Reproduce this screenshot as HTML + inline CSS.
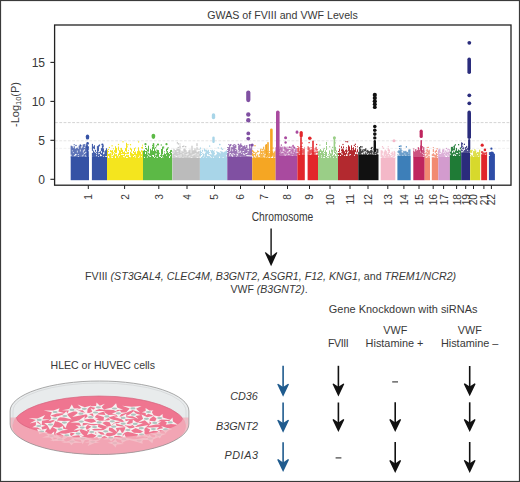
<!DOCTYPE html>
<html><head><meta charset="utf-8"><style>
html,body{margin:0;padding:0;background:#fff;}
body{width:520px;height:482px;overflow:hidden;position:relative;}
svg{position:absolute;left:0;top:0;}
text{font-family:"Liberation Sans",sans-serif;fill:#383838;}
</style></head><body>
<svg width="520" height="482" viewBox="0 0 520 482">
<rect x="0.5" y="0.5" width="519" height="481" fill="#fff" stroke="#3a3a3a" stroke-width="1.2"/>
<text x="207.2" y="18.6" font-size="10.65" textLength="150.6">GWAS of FVIII and VWF Levels</text>
<g stroke-width="0.9" stroke-dasharray="2.8,1.5" fill="none">
<line x1="55" y1="122.6" x2="511" y2="122.6" stroke="#cfcfcf"/>
<line x1="55" y1="140.8" x2="511" y2="140.8" stroke="#e2e2e2"/>
<line x1="55" y1="148.4" x2="511" y2="148.4" stroke="#efefef"/>
</g>
<g fill="#3552A5"><rect x="70.7" y="157" width="18.3" height="23.2"/><rect x="70.7" y="145.7" width="1.0" height="9.0"/><rect x="70.7" y="155.7" width="1.0" height="1.6"/><rect x="71.7" y="146.3" width="1.0" height="4.0"/><rect x="71.7" y="151.3" width="1.0" height="6.0"/><rect x="72.7" y="148.1" width="1.0" height="4.0"/><rect x="72.7" y="153.1" width="1.0" height="4.2"/><rect x="73.7" y="144.2" width="1.0" height="1.0"/><rect x="73.7" y="146.2" width="1.0" height="9.0"/><rect x="73.7" y="156.2" width="1.0" height="1.1"/><rect x="74.7" y="148.9" width="1.0" height="5.0"/><rect x="74.7" y="155.9" width="1.0" height="1.4"/><rect x="75.7" y="148.1" width="1.0" height="6.0"/><rect x="75.7" y="155.1" width="1.0" height="2.2"/><rect x="76.7" y="147.6" width="1.0" height="3.0"/><rect x="76.7" y="152.6" width="1.0" height="4.7"/><rect x="77.7" y="149.0" width="1.0" height="5.0"/><rect x="77.7" y="155.0" width="1.0" height="1.0"/><rect x="78.7" y="145.6" width="1.0" height="11.7"/><rect x="79.7" y="144.5" width="1.0" height="5.0"/><rect x="79.7" y="151.5" width="1.0" height="5.8"/><rect x="80.7" y="145.4" width="1.0" height="1.0"/><rect x="80.7" y="148.4" width="1.0" height="8.9"/><rect x="81.7" y="147.4" width="1.0" height="8.0"/><rect x="81.7" y="156.4" width="1.0" height="0.9"/><rect x="82.7" y="144.5" width="1.0" height="6.0"/><rect x="82.7" y="152.5" width="1.0" height="2.0"/><rect x="82.7" y="155.5" width="1.0" height="1.8"/><rect x="83.7" y="144.0" width="1.0" height="3.0"/><rect x="83.7" y="148.0" width="1.0" height="1.0"/><rect x="83.7" y="151.0" width="1.0" height="2.0"/><rect x="83.7" y="154.0" width="1.0" height="3.3"/><rect x="84.7" y="147.3" width="1.0" height="5.0"/><rect x="84.7" y="153.3" width="1.0" height="2.0"/><rect x="84.7" y="156.3" width="1.0" height="1.0"/><rect x="85.7" y="143.9" width="1.0" height="8.0"/><rect x="85.7" y="152.9" width="1.0" height="3.0"/><rect x="85.7" y="156.9" width="1.0" height="0.4"/><rect x="86.7" y="144.7" width="1.0" height="6.0"/><rect x="86.7" y="151.7" width="1.0" height="5.6"/><rect x="87.7" y="146.2" width="1.0" height="4.0"/><rect x="87.7" y="151.2" width="1.0" height="6.1"/><rect x="79.9" y="144.7" width="1.2" height="1.2"/><rect x="86.5" y="145.2" width="1.2" height="1.2"/><rect x="85.5" y="145.9" width="1.2" height="1.2"/><rect x="75.4" y="144.9" width="1.2" height="1.2"/><rect x="91.9" y="157" width="15.1" height="23.2"/><rect x="91.9" y="143.9" width="1.0" height="7.0"/><rect x="91.9" y="152.9" width="1.0" height="4.0"/><rect x="92.9" y="146.5" width="1.0" height="2.0"/><rect x="92.9" y="150.5" width="1.0" height="6.8"/><rect x="93.9" y="145.2" width="1.0" height="4.0"/><rect x="93.9" y="152.2" width="1.0" height="5.1"/><rect x="94.9" y="149.8" width="1.0" height="2.0"/><rect x="94.9" y="152.8" width="1.0" height="4.5"/><rect x="95.9" y="152.2" width="1.0" height="1.0"/><rect x="95.9" y="154.2" width="1.0" height="1.0"/><rect x="95.9" y="156.2" width="1.0" height="1.1"/><rect x="96.9" y="146.1" width="1.0" height="11.2"/><rect x="97.9" y="145.3" width="1.0" height="6.0"/><rect x="97.9" y="152.3" width="1.0" height="1.0"/><rect x="97.9" y="154.3" width="1.0" height="2.0"/><rect x="98.9" y="151.9" width="1.0" height="1.0"/><rect x="98.9" y="153.9" width="1.0" height="3.4"/><rect x="99.9" y="151.2" width="1.0" height="3.0"/><rect x="99.9" y="156.2" width="1.0" height="1.1"/><rect x="100.9" y="148.1" width="1.0" height="3.0"/><rect x="100.9" y="153.1" width="1.0" height="2.0"/><rect x="100.9" y="156.1" width="1.0" height="1.2"/><rect x="101.9" y="146.0" width="1.0" height="11.3"/><rect x="102.9" y="146.3" width="1.0" height="1.0"/><rect x="102.9" y="148.3" width="1.0" height="4.0"/><rect x="102.9" y="154.3" width="1.0" height="2.0"/><rect x="103.9" y="151.5" width="1.0" height="1.0"/><rect x="103.9" y="153.5" width="1.0" height="3.8"/><rect x="104.9" y="150.3" width="1.0" height="6.0"/><rect x="105.9" y="148.2" width="1.0" height="8.0"/><rect x="98.9" y="144.5" width="1.2" height="1.2"/><rect x="98.7" y="145.2" width="1.2" height="1.2"/><rect x="102.4" y="145.0" width="1.2" height="1.2"/></g>
<g fill="#F4E51E"><rect x="107.0" y="158" width="36.0" height="22.2"/><rect x="107.0" y="149.7" width="1.0" height="8.6"/><rect x="108.0" y="149.0" width="1.0" height="1.0"/><rect x="108.0" y="151.0" width="1.0" height="1.0"/><rect x="108.0" y="154.0" width="1.0" height="2.0"/><rect x="109.0" y="153.7" width="1.0" height="4.0"/><rect x="110.0" y="150.1" width="1.0" height="2.0"/><rect x="110.0" y="153.1" width="1.0" height="5.2"/><rect x="111.0" y="150.6" width="1.0" height="2.0"/><rect x="111.0" y="153.6" width="1.0" height="1.0"/><rect x="111.0" y="155.6" width="1.0" height="1.0"/><rect x="111.0" y="157.6" width="1.0" height="0.7"/><rect x="112.0" y="150.1" width="1.0" height="5.0"/><rect x="112.0" y="156.1" width="1.0" height="1.0"/><rect x="113.0" y="148.3" width="1.0" height="1.0"/><rect x="113.0" y="152.3" width="1.0" height="1.0"/><rect x="113.0" y="155.3" width="1.0" height="3.0"/><rect x="114.0" y="150.2" width="1.0" height="2.0"/><rect x="114.0" y="153.2" width="1.0" height="5.1"/><rect x="115.0" y="146.2" width="1.0" height="7.0"/><rect x="115.0" y="154.2" width="1.0" height="2.0"/><rect x="116.0" y="147.9" width="1.0" height="5.0"/><rect x="116.0" y="153.9" width="1.0" height="4.4"/><rect x="117.0" y="155.8" width="1.0" height="2.5"/><rect x="118.0" y="146.5" width="1.0" height="4.0"/><rect x="118.0" y="153.5" width="1.0" height="3.0"/><rect x="118.0" y="157.5" width="1.0" height="0.8"/><rect x="119.0" y="150.1" width="1.0" height="5.0"/><rect x="119.0" y="156.1" width="1.0" height="2.2"/><rect x="120.0" y="148.4" width="1.0" height="1.0"/><rect x="120.0" y="150.4" width="1.0" height="7.9"/><rect x="121.0" y="147.9" width="1.0" height="4.0"/><rect x="121.0" y="152.9" width="1.0" height="1.0"/><rect x="121.0" y="154.9" width="1.0" height="3.0"/><rect x="122.0" y="149.9" width="1.0" height="4.0"/><rect x="122.0" y="154.9" width="1.0" height="3.4"/><rect x="123.0" y="152.1" width="1.0" height="2.0"/><rect x="123.0" y="155.1" width="1.0" height="1.0"/><rect x="123.0" y="157.1" width="1.0" height="1.2"/><rect x="124.0" y="151.3" width="1.0" height="5.0"/><rect x="124.0" y="157.3" width="1.0" height="1.0"/><rect x="125.0" y="148.1" width="1.0" height="3.0"/><rect x="125.0" y="153.1" width="1.0" height="1.0"/><rect x="125.0" y="156.1" width="1.0" height="2.2"/><rect x="126.0" y="142.8" width="1.0" height="9.0"/><rect x="126.0" y="152.8" width="1.0" height="1.0"/><rect x="126.0" y="154.8" width="1.0" height="2.0"/><rect x="127.0" y="152.2" width="1.0" height="2.0"/><rect x="127.0" y="155.2" width="1.0" height="2.0"/><rect x="128.0" y="149.9" width="1.0" height="1.0"/><rect x="128.0" y="151.9" width="1.0" height="2.0"/><rect x="128.0" y="154.9" width="1.0" height="3.4"/><rect x="129.0" y="157.0" width="1.0" height="1.3"/><rect x="130.0" y="147.8" width="1.0" height="2.0"/><rect x="130.0" y="151.8" width="1.0" height="4.0"/><rect x="130.0" y="156.8" width="1.0" height="1.0"/><rect x="131.0" y="148.7" width="1.0" height="3.0"/><rect x="131.0" y="152.7" width="1.0" height="5.6"/><rect x="132.0" y="153.6" width="1.0" height="4.7"/><rect x="133.0" y="151.0" width="1.0" height="2.0"/><rect x="133.0" y="154.0" width="1.0" height="2.0"/><rect x="133.0" y="157.0" width="1.0" height="1.3"/><rect x="134.0" y="148.1" width="1.0" height="3.0"/><rect x="134.0" y="152.1" width="1.0" height="3.0"/><rect x="134.0" y="156.1" width="1.0" height="2.2"/><rect x="135.0" y="147.5" width="1.0" height="1.0"/><rect x="135.0" y="151.5" width="1.0" height="4.0"/><rect x="135.0" y="156.5" width="1.0" height="1.0"/><rect x="136.0" y="153.8" width="1.0" height="4.5"/><rect x="137.0" y="151.1" width="1.0" height="7.2"/><rect x="138.0" y="147.3" width="1.0" height="10.0"/><rect x="139.0" y="150.7" width="1.0" height="5.0"/><rect x="139.0" y="156.7" width="1.0" height="1.0"/><rect x="140.0" y="151.8" width="1.0" height="6.5"/><rect x="141.0" y="147.2" width="1.0" height="1.0"/><rect x="141.0" y="150.2" width="1.0" height="2.0"/><rect x="141.0" y="154.2" width="1.0" height="2.0"/><rect x="141.0" y="157.2" width="1.0" height="1.1"/><rect x="142.0" y="144.7" width="1.0" height="1.0"/><rect x="142.0" y="146.7" width="1.0" height="2.0"/><rect x="142.0" y="150.7" width="1.0" height="7.6"/><rect x="138.0" y="141.3" width="1.2" height="1.2"/><rect x="126.6" y="146.3" width="1.2" height="1.2"/><rect x="108.8" y="146.9" width="1.2" height="1.2"/><rect x="111.5" y="145.2" width="1.2" height="1.2"/><rect x="126.2" y="145.4" width="1.2" height="1.2"/><rect x="117.9" y="143.9" width="1.2" height="1.2"/><rect x="127.3" y="144.0" width="1.2" height="1.2"/><rect x="129.9" y="144.1" width="1.2" height="1.2"/><rect x="122.4" y="141.2" width="1.2" height="1.2"/></g>
<g fill="#5CB946"><rect x="143.0" y="158" width="29.3" height="22.2"/><rect x="143.0" y="150.8" width="1.0" height="7.5"/><rect x="144.0" y="149.9" width="1.0" height="7.0"/><rect x="144.0" y="157.9" width="1.0" height="0.4"/><rect x="145.0" y="144.0" width="1.0" height="1.0"/><rect x="145.0" y="146.0" width="1.0" height="1.0"/><rect x="145.0" y="148.0" width="1.0" height="1.0"/><rect x="145.0" y="151.0" width="1.0" height="1.0"/><rect x="145.0" y="154.0" width="1.0" height="4.3"/><rect x="146.0" y="147.9" width="1.0" height="2.0"/><rect x="146.0" y="150.9" width="1.0" height="7.0"/><rect x="147.0" y="149.5" width="1.0" height="2.0"/><rect x="147.0" y="152.5" width="1.0" height="1.0"/><rect x="147.0" y="154.5" width="1.0" height="2.0"/><rect x="147.0" y="157.5" width="1.0" height="0.8"/><rect x="148.0" y="145.7" width="1.0" height="6.0"/><rect x="148.0" y="152.7" width="1.0" height="2.0"/><rect x="148.0" y="155.7" width="1.0" height="2.6"/><rect x="149.0" y="153.6" width="1.0" height="2.0"/><rect x="149.0" y="156.6" width="1.0" height="1.7"/><rect x="150.0" y="148.9" width="1.0" height="7.0"/><rect x="150.0" y="156.9" width="1.0" height="1.4"/><rect x="151.0" y="150.3" width="1.0" height="8.0"/><rect x="152.0" y="145.1" width="1.0" height="1.0"/><rect x="152.0" y="147.1" width="1.0" height="8.0"/><rect x="152.0" y="156.1" width="1.0" height="2.2"/><rect x="153.0" y="151.0" width="1.0" height="4.0"/><rect x="153.0" y="157.0" width="1.0" height="1.3"/><rect x="154.0" y="148.2" width="1.0" height="9.0"/><rect x="155.0" y="150.7" width="1.0" height="3.0"/><rect x="155.0" y="154.7" width="1.0" height="1.0"/><rect x="155.0" y="156.7" width="1.0" height="1.6"/><rect x="156.0" y="149.6" width="1.0" height="1.0"/><rect x="156.0" y="151.6" width="1.0" height="2.0"/><rect x="156.0" y="154.6" width="1.0" height="3.0"/><rect x="157.0" y="149.8" width="1.0" height="7.0"/><rect x="157.0" y="157.8" width="1.0" height="0.5"/><rect x="158.0" y="150.1" width="1.0" height="8.2"/><rect x="159.0" y="152.8" width="1.0" height="1.0"/><rect x="159.0" y="156.8" width="1.0" height="1.5"/><rect x="160.0" y="154.9" width="1.0" height="1.0"/><rect x="160.0" y="156.9" width="1.0" height="1.4"/><rect x="161.0" y="149.0" width="1.0" height="8.0"/><rect x="162.0" y="147.3" width="1.0" height="7.0"/><rect x="162.0" y="155.3" width="1.0" height="1.0"/><rect x="162.0" y="157.3" width="1.0" height="1.0"/><rect x="163.0" y="154.8" width="1.0" height="3.0"/><rect x="164.0" y="151.3" width="1.0" height="1.0"/><rect x="164.0" y="153.3" width="1.0" height="5.0"/><rect x="165.0" y="154.0" width="1.0" height="4.3"/><rect x="166.0" y="148.7" width="1.0" height="3.0"/><rect x="166.0" y="152.7" width="1.0" height="2.0"/><rect x="166.0" y="155.7" width="1.0" height="2.6"/><rect x="167.0" y="148.1" width="1.0" height="2.0"/><rect x="167.0" y="151.1" width="1.0" height="7.2"/><rect x="168.0" y="152.9" width="1.0" height="5.4"/><rect x="169.0" y="152.1" width="1.0" height="1.0"/><rect x="169.0" y="154.1" width="1.0" height="2.0"/><rect x="170.0" y="150.2" width="1.0" height="5.0"/><rect x="170.0" y="156.2" width="1.0" height="2.1"/><rect x="171.0" y="149.9" width="1.0" height="2.0"/><rect x="171.0" y="152.9" width="1.0" height="5.4"/><rect x="167.5" y="147.1" width="1.2" height="1.2"/><rect x="162.6" y="147.4" width="1.2" height="1.2"/><rect x="162.1" y="146.6" width="1.2" height="1.2"/><rect x="155.9" y="145.3" width="1.2" height="1.2"/><rect x="160.7" y="144.4" width="1.2" height="1.2"/><rect x="155.0" y="147.1" width="1.2" height="1.2"/><rect x="163.0" y="146.5" width="1.2" height="1.2"/></g>
<g fill="#BBBBBB"><rect x="172.5" y="158" width="27.4" height="22.2"/><rect x="172.5" y="150.9" width="1.0" height="2.0"/><rect x="172.5" y="153.9" width="1.0" height="4.4"/><rect x="173.5" y="148.7" width="1.0" height="2.0"/><rect x="173.5" y="152.7" width="1.0" height="5.6"/><rect x="174.5" y="150.1" width="1.0" height="5.0"/><rect x="174.5" y="156.1" width="1.0" height="2.2"/><rect x="175.5" y="150.0" width="1.0" height="6.0"/><rect x="175.5" y="157.0" width="1.0" height="1.3"/><rect x="176.5" y="148.7" width="1.0" height="2.0"/><rect x="176.5" y="151.7" width="1.0" height="4.0"/><rect x="176.5" y="156.7" width="1.0" height="1.6"/><rect x="177.5" y="148.8" width="1.0" height="2.0"/><rect x="177.5" y="151.8" width="1.0" height="1.0"/><rect x="177.5" y="153.8" width="1.0" height="4.5"/><rect x="178.5" y="148.8" width="1.0" height="6.0"/><rect x="178.5" y="156.8" width="1.0" height="1.0"/><rect x="179.5" y="143.5" width="1.0" height="1.0"/><rect x="179.5" y="145.5" width="1.0" height="3.0"/><rect x="179.5" y="149.5" width="1.0" height="8.0"/><rect x="180.5" y="153.1" width="1.0" height="1.0"/><rect x="180.5" y="157.1" width="1.0" height="1.2"/><rect x="181.5" y="150.8" width="1.0" height="7.5"/><rect x="182.5" y="152.2" width="1.0" height="1.0"/><rect x="182.5" y="154.2" width="1.0" height="3.0"/><rect x="183.5" y="148.6" width="1.0" height="5.0"/><rect x="183.5" y="154.6" width="1.0" height="1.0"/><rect x="183.5" y="156.6" width="1.0" height="1.7"/><rect x="184.5" y="148.8" width="1.0" height="3.0"/><rect x="184.5" y="152.8" width="1.0" height="5.5"/><rect x="185.5" y="150.2" width="1.0" height="4.0"/><rect x="185.5" y="155.2" width="1.0" height="1.0"/><rect x="185.5" y="157.2" width="1.0" height="1.1"/><rect x="186.5" y="152.5" width="1.0" height="2.0"/><rect x="186.5" y="155.5" width="1.0" height="2.8"/><rect x="187.5" y="151.9" width="1.0" height="1.0"/><rect x="187.5" y="154.9" width="1.0" height="3.4"/><rect x="188.5" y="150.3" width="1.0" height="6.0"/><rect x="188.5" y="157.3" width="1.0" height="1.0"/><rect x="189.5" y="149.5" width="1.0" height="6.0"/><rect x="189.5" y="156.5" width="1.0" height="1.8"/><rect x="190.5" y="153.3" width="1.0" height="4.0"/><rect x="191.5" y="145.7" width="1.0" height="9.0"/><rect x="191.5" y="155.7" width="1.0" height="1.0"/><rect x="191.5" y="157.7" width="1.0" height="0.6"/><rect x="192.5" y="150.5" width="1.0" height="4.0"/><rect x="192.5" y="155.5" width="1.0" height="2.8"/><rect x="193.5" y="150.2" width="1.0" height="4.0"/><rect x="193.5" y="155.2" width="1.0" height="3.1"/><rect x="194.5" y="148.4" width="1.0" height="5.0"/><rect x="194.5" y="154.4" width="1.0" height="3.9"/><rect x="195.5" y="150.4" width="1.0" height="3.0"/><rect x="195.5" y="154.4" width="1.0" height="1.0"/><rect x="195.5" y="156.4" width="1.0" height="1.9"/><rect x="196.5" y="143.2" width="1.0" height="3.0"/><rect x="196.5" y="147.2" width="1.0" height="3.0"/><rect x="196.5" y="152.2" width="1.0" height="5.0"/><rect x="197.5" y="151.7" width="1.0" height="2.0"/><rect x="197.5" y="155.7" width="1.0" height="1.0"/><rect x="197.5" y="157.7" width="1.0" height="0.6"/><rect x="198.5" y="148.9" width="1.0" height="1.0"/><rect x="198.5" y="150.9" width="1.0" height="7.0"/><rect x="199.5" y="154.0" width="0.4" height="2.0"/><rect x="199.5" y="158.0" width="0.4" height="0.3"/><rect x="185.1" y="146.1" width="1.2" height="1.2"/><rect x="177.8" y="143.3" width="1.2" height="1.2"/><rect x="177.6" y="146.9" width="1.2" height="1.2"/><rect x="182.2" y="146.0" width="1.2" height="1.2"/><rect x="183.2" y="145.6" width="1.2" height="1.2"/><rect x="176.8" y="142.3" width="1.2" height="1.2"/></g>
<g fill="#A8D5E8"><rect x="199.9" y="158" width="27.4" height="22.2"/><rect x="199.9" y="147.4" width="1.0" height="2.0"/><rect x="199.9" y="150.4" width="1.0" height="6.0"/><rect x="200.9" y="152.0" width="1.0" height="1.0"/><rect x="200.9" y="154.0" width="1.0" height="1.0"/><rect x="200.9" y="157.0" width="1.0" height="1.3"/><rect x="201.9" y="149.8" width="1.0" height="2.0"/><rect x="201.9" y="152.8" width="1.0" height="1.0"/><rect x="201.9" y="155.8" width="1.0" height="2.5"/><rect x="202.9" y="153.5" width="1.0" height="4.0"/><rect x="203.9" y="148.4" width="1.0" height="3.0"/><rect x="203.9" y="154.4" width="1.0" height="1.0"/><rect x="203.9" y="156.4" width="1.0" height="1.9"/><rect x="204.9" y="149.6" width="1.0" height="2.0"/><rect x="204.9" y="152.6" width="1.0" height="5.7"/><rect x="205.9" y="150.5" width="1.0" height="7.0"/><rect x="206.9" y="150.9" width="1.0" height="3.0"/><rect x="206.9" y="155.9" width="1.0" height="2.4"/><rect x="207.9" y="149.8" width="1.0" height="5.0"/><rect x="207.9" y="155.8" width="1.0" height="2.5"/><rect x="208.9" y="152.1" width="1.0" height="1.0"/><rect x="208.9" y="154.1" width="1.0" height="1.0"/><rect x="208.9" y="156.1" width="1.0" height="2.2"/><rect x="209.9" y="150.2" width="1.0" height="1.0"/><rect x="209.9" y="154.2" width="1.0" height="2.0"/><rect x="209.9" y="157.2" width="1.0" height="1.1"/><rect x="210.9" y="150.4" width="1.0" height="3.0"/><rect x="210.9" y="154.4" width="1.0" height="3.0"/><rect x="211.9" y="149.8" width="1.0" height="8.5"/><rect x="212.9" y="150.8" width="1.0" height="6.0"/><rect x="212.9" y="157.8" width="1.0" height="0.5"/><rect x="213.9" y="150.4" width="1.0" height="1.0"/><rect x="213.9" y="152.4" width="1.0" height="2.0"/><rect x="213.9" y="155.4" width="1.0" height="2.9"/><rect x="214.9" y="155.3" width="1.0" height="3.0"/><rect x="215.9" y="151.4" width="1.0" height="1.0"/><rect x="215.9" y="154.4" width="1.0" height="3.9"/><rect x="216.9" y="151.7" width="1.0" height="6.6"/><rect x="217.9" y="152.1" width="1.0" height="6.2"/><rect x="218.9" y="152.6" width="1.0" height="4.0"/><rect x="219.9" y="151.3" width="1.0" height="1.0"/><rect x="219.9" y="153.3" width="1.0" height="5.0"/><rect x="220.9" y="147.4" width="1.0" height="2.0"/><rect x="220.9" y="151.4" width="1.0" height="6.9"/><rect x="221.9" y="151.7" width="1.0" height="6.0"/><rect x="222.9" y="152.4" width="1.0" height="5.0"/><rect x="223.9" y="151.8" width="1.0" height="6.5"/><rect x="224.9" y="151.3" width="1.0" height="7.0"/><rect x="225.9" y="150.3" width="1.0" height="5.0"/><rect x="225.9" y="156.3" width="1.0" height="2.0"/><rect x="226.9" y="150.7" width="0.4" height="3.0"/><rect x="226.9" y="154.7" width="0.4" height="3.6"/><rect x="219.1" y="143.8" width="1.2" height="1.2"/><rect x="206.1" y="149.7" width="1.2" height="1.2"/><rect x="219.2" y="144.1" width="1.2" height="1.2"/><rect x="209.0" y="145.5" width="1.2" height="1.2"/><rect x="217.6" y="147.3" width="1.2" height="1.2"/><rect x="222.0" y="148.7" width="1.2" height="1.2"/></g>
<g fill="#8050A2"><rect x="227.3" y="157" width="24.9" height="23.2"/><rect x="227.3" y="147.0" width="1.0" height="1.0"/><rect x="227.3" y="149.0" width="1.0" height="1.0"/><rect x="227.3" y="151.0" width="1.0" height="1.0"/><rect x="227.3" y="153.0" width="1.0" height="4.3"/><rect x="228.3" y="144.1" width="1.0" height="1.0"/><rect x="228.3" y="147.1" width="1.0" height="10.2"/><rect x="229.3" y="145.1" width="1.0" height="6.0"/><rect x="229.3" y="152.1" width="1.0" height="1.0"/><rect x="229.3" y="156.1" width="1.0" height="1.2"/><rect x="230.3" y="151.1" width="1.0" height="2.0"/><rect x="230.3" y="154.1" width="1.0" height="3.2"/><rect x="231.3" y="147.1" width="1.0" height="7.0"/><rect x="231.3" y="156.1" width="1.0" height="1.2"/><rect x="232.3" y="145.3" width="1.0" height="1.0"/><rect x="232.3" y="147.3" width="1.0" height="2.0"/><rect x="232.3" y="151.3" width="1.0" height="2.0"/><rect x="232.3" y="154.3" width="1.0" height="1.0"/><rect x="233.3" y="144.4" width="1.0" height="9.0"/><rect x="233.3" y="154.4" width="1.0" height="2.9"/><rect x="234.3" y="144.1" width="1.0" height="1.0"/><rect x="234.3" y="146.1" width="1.0" height="8.0"/><rect x="234.3" y="155.1" width="1.0" height="2.2"/><rect x="235.3" y="145.0" width="1.0" height="3.0"/><rect x="235.3" y="149.0" width="1.0" height="1.0"/><rect x="235.3" y="151.0" width="1.0" height="6.3"/><rect x="236.3" y="149.7" width="1.0" height="4.0"/><rect x="236.3" y="154.7" width="1.0" height="1.0"/><rect x="236.3" y="156.7" width="1.0" height="0.6"/><rect x="237.3" y="152.7" width="1.0" height="1.0"/><rect x="237.3" y="155.7" width="1.0" height="1.6"/><rect x="238.3" y="145.3" width="1.0" height="5.0"/><rect x="238.3" y="151.3" width="1.0" height="1.0"/><rect x="238.3" y="153.3" width="1.0" height="4.0"/><rect x="239.3" y="144.6" width="1.0" height="7.0"/><rect x="239.3" y="152.6" width="1.0" height="4.7"/><rect x="240.3" y="144.6" width="1.0" height="3.0"/><rect x="240.3" y="148.6" width="1.0" height="2.0"/><rect x="240.3" y="152.6" width="1.0" height="4.0"/><rect x="241.3" y="145.0" width="1.0" height="2.0"/><rect x="241.3" y="148.0" width="1.0" height="5.0"/><rect x="241.3" y="154.0" width="1.0" height="3.3"/><rect x="242.3" y="146.3" width="1.0" height="5.0"/><rect x="242.3" y="152.3" width="1.0" height="5.0"/><rect x="243.3" y="146.0" width="1.0" height="5.0"/><rect x="243.3" y="152.0" width="1.0" height="1.0"/><rect x="243.3" y="155.0" width="1.0" height="2.3"/><rect x="244.3" y="145.3" width="1.0" height="4.0"/><rect x="244.3" y="150.3" width="1.0" height="4.0"/><rect x="244.3" y="155.3" width="1.0" height="2.0"/><rect x="245.3" y="147.1" width="1.0" height="6.0"/><rect x="245.3" y="154.1" width="1.0" height="3.2"/><rect x="246.3" y="145.0" width="1.0" height="3.0"/><rect x="246.3" y="149.0" width="1.0" height="4.0"/><rect x="246.3" y="154.0" width="1.0" height="1.0"/><rect x="246.3" y="156.0" width="1.0" height="1.3"/><rect x="247.3" y="148.2" width="1.0" height="2.0"/><rect x="247.3" y="151.2" width="1.0" height="1.0"/><rect x="247.3" y="153.2" width="1.0" height="2.0"/><rect x="247.3" y="156.2" width="1.0" height="1.1"/><rect x="248.3" y="149.2" width="1.0" height="1.0"/><rect x="248.3" y="151.2" width="1.0" height="4.0"/><rect x="248.3" y="156.2" width="1.0" height="1.1"/><rect x="249.3" y="144.3" width="1.0" height="11.0"/><rect x="249.3" y="156.3" width="1.0" height="1.0"/><rect x="250.3" y="148.4" width="1.0" height="7.0"/><rect x="250.3" y="156.4" width="1.0" height="0.9"/><rect x="251.3" y="144.4" width="0.9" height="11.0"/><rect x="251.3" y="156.4" width="0.9" height="0.9"/><rect x="229.7" y="144.6" width="1.2" height="1.2"/><rect x="250.2" y="144.3" width="1.2" height="1.2"/><rect x="230.3" y="144.2" width="1.2" height="1.2"/><rect x="237.7" y="143.8" width="1.2" height="1.2"/><rect x="240.2" y="143.5" width="1.2" height="1.2"/><rect x="248.9" y="144.5" width="1.2" height="1.2"/></g>
<g fill="#F5A623"><rect x="252.2" y="158" width="23.4" height="22.2"/><rect x="252.2" y="150.0" width="1.0" height="2.0"/><rect x="252.2" y="153.0" width="1.0" height="3.0"/><rect x="253.2" y="151.1" width="1.0" height="2.0"/><rect x="253.2" y="154.1" width="1.0" height="4.2"/><rect x="254.2" y="152.1" width="1.0" height="1.0"/><rect x="254.2" y="154.1" width="1.0" height="1.0"/><rect x="254.2" y="157.1" width="1.0" height="1.2"/><rect x="255.2" y="152.6" width="1.0" height="4.0"/><rect x="255.2" y="157.6" width="1.0" height="0.7"/><rect x="256.2" y="152.2" width="1.0" height="1.0"/><rect x="256.2" y="156.2" width="1.0" height="2.1"/><rect x="257.2" y="150.4" width="1.0" height="2.0"/><rect x="257.2" y="154.4" width="1.0" height="3.9"/><rect x="258.2" y="151.1" width="1.0" height="1.0"/><rect x="258.2" y="157.1" width="1.0" height="1.2"/><rect x="259.2" y="153.8" width="1.0" height="2.0"/><rect x="259.2" y="156.8" width="1.0" height="1.5"/><rect x="260.2" y="149.5" width="1.0" height="8.8"/><rect x="261.2" y="151.0" width="1.0" height="2.0"/><rect x="261.2" y="154.0" width="1.0" height="4.3"/><rect x="262.2" y="151.1" width="1.0" height="7.2"/><rect x="263.2" y="146.7" width="1.0" height="3.0"/><rect x="263.2" y="150.7" width="1.0" height="2.0"/><rect x="263.2" y="153.7" width="1.0" height="2.0"/><rect x="263.2" y="156.7" width="1.0" height="1.6"/><rect x="264.2" y="149.4" width="1.0" height="5.0"/><rect x="264.2" y="155.4" width="1.0" height="1.0"/><rect x="264.2" y="157.4" width="1.0" height="0.9"/><rect x="265.2" y="144.8" width="1.0" height="5.0"/><rect x="265.2" y="150.8" width="1.0" height="3.0"/><rect x="265.2" y="154.8" width="1.0" height="3.5"/><rect x="266.2" y="152.4" width="1.0" height="4.0"/><rect x="266.2" y="157.4" width="1.0" height="0.9"/><rect x="267.2" y="151.0" width="1.0" height="1.0"/><rect x="267.2" y="153.0" width="1.0" height="2.0"/><rect x="267.2" y="157.0" width="1.0" height="1.3"/><rect x="268.2" y="155.5" width="1.0" height="2.0"/><rect x="269.2" y="150.9" width="1.0" height="1.0"/><rect x="269.2" y="152.9" width="1.0" height="4.0"/><rect x="269.2" y="157.9" width="1.0" height="0.4"/><rect x="270.2" y="151.9" width="1.0" height="6.4"/><rect x="271.2" y="151.0" width="1.0" height="5.0"/><rect x="271.2" y="158.0" width="1.0" height="0.3"/><rect x="272.2" y="151.3" width="1.0" height="4.0"/><rect x="273.2" y="152.8" width="1.0" height="5.5"/><rect x="274.2" y="151.4" width="1.0" height="6.0"/><rect x="275.2" y="150.4" width="0.4" height="6.0"/><rect x="275.2" y="157.4" width="0.4" height="0.9"/><rect x="272.4" y="147.5" width="1.2" height="1.2"/><rect x="254.4" y="145.1" width="1.2" height="1.2"/><rect x="265.1" y="149.9" width="1.2" height="1.2"/><rect x="260.3" y="148.6" width="1.2" height="1.2"/><rect x="261.9" y="149.2" width="1.2" height="1.2"/></g>
<g fill="#A94A9F"><rect x="275.6" y="156" width="21.8" height="24.2"/><rect x="275.6" y="147.2" width="1.0" height="9.1"/><rect x="276.6" y="145.1" width="1.0" height="2.0"/><rect x="276.6" y="148.1" width="1.0" height="2.0"/><rect x="276.6" y="152.1" width="1.0" height="4.2"/><rect x="277.6" y="146.1" width="1.0" height="10.2"/><rect x="278.6" y="149.1" width="1.0" height="3.0"/><rect x="278.6" y="153.1" width="1.0" height="1.0"/><rect x="278.6" y="155.1" width="1.0" height="1.2"/><rect x="279.6" y="146.5" width="1.0" height="4.0"/><rect x="279.6" y="151.5" width="1.0" height="4.8"/><rect x="280.6" y="147.4" width="1.0" height="5.0"/><rect x="280.6" y="153.4" width="1.0" height="2.9"/><rect x="281.6" y="146.6" width="1.0" height="5.0"/><rect x="281.6" y="152.6" width="1.0" height="3.7"/><rect x="282.6" y="150.9" width="1.0" height="1.0"/><rect x="282.6" y="152.9" width="1.0" height="3.4"/><rect x="283.6" y="146.5" width="1.0" height="3.0"/><rect x="283.6" y="150.5" width="1.0" height="3.0"/><rect x="283.6" y="154.5" width="1.0" height="1.8"/><rect x="284.6" y="146.7" width="1.0" height="4.0"/><rect x="284.6" y="151.7" width="1.0" height="3.0"/><rect x="285.6" y="147.7" width="1.0" height="6.0"/><rect x="285.6" y="154.7" width="1.0" height="1.6"/><rect x="286.6" y="146.7" width="1.0" height="1.0"/><rect x="286.6" y="148.7" width="1.0" height="3.0"/><rect x="286.6" y="152.7" width="1.0" height="3.6"/><rect x="287.6" y="148.6" width="1.0" height="3.0"/><rect x="287.6" y="152.6" width="1.0" height="1.0"/><rect x="287.6" y="154.6" width="1.0" height="1.7"/><rect x="288.6" y="146.9" width="1.0" height="1.0"/><rect x="288.6" y="148.9" width="1.0" height="1.0"/><rect x="288.6" y="151.9" width="1.0" height="2.0"/><rect x="288.6" y="154.9" width="1.0" height="1.4"/><rect x="289.6" y="146.9" width="1.0" height="1.0"/><rect x="289.6" y="148.9" width="1.0" height="1.0"/><rect x="289.6" y="150.9" width="1.0" height="5.4"/><rect x="290.6" y="146.5" width="1.0" height="2.0"/><rect x="290.6" y="149.5" width="1.0" height="2.0"/><rect x="290.6" y="153.5" width="1.0" height="2.8"/><rect x="291.6" y="148.3" width="1.0" height="7.0"/><rect x="292.6" y="144.8" width="1.0" height="3.0"/><rect x="292.6" y="148.8" width="1.0" height="4.0"/><rect x="292.6" y="153.8" width="1.0" height="2.0"/><rect x="293.6" y="147.0" width="1.0" height="2.0"/><rect x="293.6" y="152.0" width="1.0" height="4.3"/><rect x="294.6" y="147.5" width="1.0" height="1.0"/><rect x="294.6" y="149.5" width="1.0" height="6.8"/><rect x="295.6" y="148.1" width="1.0" height="4.0"/><rect x="295.6" y="153.1" width="1.0" height="3.2"/><rect x="296.6" y="152.2" width="0.8" height="3.0"/><rect x="280.8" y="144.5" width="1.2" height="1.2"/><rect x="292.4" y="145.4" width="1.2" height="1.2"/><rect x="288.8" y="146.5" width="1.2" height="1.2"/><rect x="293.8" y="146.6" width="1.2" height="1.2"/><rect x="277.0" y="145.1" width="1.2" height="1.2"/></g>
<g fill="#E2262B"><rect x="297.4" y="155" width="7.4" height="25.2"/><rect x="297.4" y="146.0" width="1.0" height="1.0"/><rect x="297.4" y="148.0" width="1.0" height="4.0"/><rect x="297.4" y="153.0" width="1.0" height="2.3"/><rect x="298.4" y="147.1" width="1.0" height="8.2"/><rect x="299.4" y="151.1" width="1.0" height="3.0"/><rect x="300.4" y="145.8" width="1.0" height="1.0"/><rect x="300.4" y="147.8" width="1.0" height="7.5"/><rect x="301.4" y="146.0" width="1.0" height="1.0"/><rect x="301.4" y="148.0" width="1.0" height="1.0"/><rect x="301.4" y="150.0" width="1.0" height="5.3"/><rect x="302.4" y="148.4" width="1.0" height="5.0"/><rect x="302.4" y="154.4" width="1.0" height="0.9"/><rect x="303.4" y="148.9" width="1.0" height="6.4"/><rect x="304.4" y="146.9" width="0.4" height="8.4"/><rect x="301.6" y="142.5" width="1.2" height="1.2"/><rect x="307.6" y="155" width="10.4" height="25.2"/><rect x="307.6" y="146.3" width="1.0" height="4.0"/><rect x="307.6" y="151.3" width="1.0" height="4.0"/><rect x="308.6" y="147.4" width="1.0" height="7.9"/><rect x="309.6" y="150.0" width="1.0" height="4.0"/><rect x="309.6" y="155.0" width="1.0" height="0.3"/><rect x="310.6" y="147.2" width="1.0" height="1.0"/><rect x="310.6" y="149.2" width="1.0" height="4.0"/><rect x="310.6" y="154.2" width="1.0" height="1.1"/><rect x="311.6" y="149.7" width="1.0" height="5.0"/><rect x="312.6" y="151.9" width="1.0" height="3.0"/><rect x="313.6" y="149.7" width="1.0" height="1.0"/><rect x="313.6" y="151.7" width="1.0" height="3.6"/><rect x="314.6" y="148.4" width="1.0" height="1.0"/><rect x="314.6" y="151.4" width="1.0" height="3.9"/><rect x="315.6" y="146.8" width="1.0" height="4.0"/><rect x="315.6" y="151.8" width="1.0" height="1.0"/><rect x="316.6" y="149.2" width="1.0" height="1.0"/><rect x="316.6" y="151.2" width="1.0" height="2.0"/><rect x="316.6" y="154.2" width="1.0" height="1.1"/><rect x="317.6" y="149.5" width="0.4" height="1.0"/><rect x="317.6" y="151.5" width="0.4" height="2.0"/><rect x="317.6" y="154.5" width="0.4" height="0.8"/><rect x="316.0" y="143.9" width="1.2" height="1.2"/><rect x="308.5" y="142.0" width="1.2" height="1.2"/></g>
<g fill="#9ACE87"><rect x="318.0" y="158" width="20.0" height="22.2"/><rect x="318.0" y="151.2" width="1.0" height="5.0"/><rect x="318.0" y="157.2" width="1.0" height="1.1"/><rect x="319.0" y="150.5" width="1.0" height="7.8"/><rect x="320.0" y="149.0" width="1.0" height="3.0"/><rect x="320.0" y="153.0" width="1.0" height="5.3"/><rect x="321.0" y="150.4" width="1.0" height="5.0"/><rect x="321.0" y="156.4" width="1.0" height="1.0"/><rect x="322.0" y="150.9" width="1.0" height="7.4"/><rect x="323.0" y="149.2" width="1.0" height="3.0"/><rect x="323.0" y="153.2" width="1.0" height="4.0"/><rect x="324.0" y="152.1" width="1.0" height="1.0"/><rect x="324.0" y="154.1" width="1.0" height="1.0"/><rect x="324.0" y="156.1" width="1.0" height="1.0"/><rect x="325.0" y="150.2" width="1.0" height="8.1"/><rect x="326.0" y="142.0" width="1.0" height="3.0"/><rect x="326.0" y="146.0" width="1.0" height="4.0"/><rect x="326.0" y="152.0" width="1.0" height="4.0"/><rect x="326.0" y="157.0" width="1.0" height="1.3"/><rect x="327.0" y="156.2" width="1.0" height="1.0"/><rect x="328.0" y="154.2" width="1.0" height="1.0"/><rect x="328.0" y="156.2" width="1.0" height="1.0"/><rect x="329.0" y="150.4" width="1.0" height="4.0"/><rect x="329.0" y="155.4" width="1.0" height="2.9"/><rect x="330.0" y="153.3" width="1.0" height="3.0"/><rect x="330.0" y="157.3" width="1.0" height="1.0"/><rect x="331.0" y="149.4" width="1.0" height="3.0"/><rect x="331.0" y="153.4" width="1.0" height="4.9"/><rect x="332.0" y="149.8" width="1.0" height="5.0"/><rect x="332.0" y="155.8" width="1.0" height="2.5"/><rect x="333.0" y="155.2" width="1.0" height="2.0"/><rect x="334.0" y="152.0" width="1.0" height="1.0"/><rect x="334.0" y="154.0" width="1.0" height="4.3"/><rect x="335.0" y="146.9" width="1.0" height="4.0"/><rect x="335.0" y="151.9" width="1.0" height="2.0"/><rect x="335.0" y="155.9" width="1.0" height="2.4"/><rect x="336.0" y="150.3" width="1.0" height="2.0"/><rect x="336.0" y="153.3" width="1.0" height="2.0"/><rect x="336.0" y="156.3" width="1.0" height="1.0"/><rect x="337.0" y="152.9" width="1.0" height="5.0"/><rect x="334.5" y="142.3" width="1.2" height="1.2"/><rect x="329.1" y="146.2" width="1.2" height="1.2"/><rect x="319.3" y="144.5" width="1.2" height="1.2"/><rect x="332.0" y="146.8" width="1.2" height="1.2"/><rect x="323.6" y="147.9" width="1.2" height="1.2"/></g>
<g fill="#B3292F"><rect x="338.0" y="156" width="20.3" height="24.2"/><rect x="338.0" y="151.0" width="1.0" height="1.0"/><rect x="338.0" y="153.0" width="1.0" height="2.0"/><rect x="339.0" y="145.6" width="1.0" height="1.0"/><rect x="339.0" y="148.6" width="1.0" height="3.0"/><rect x="339.0" y="152.6" width="1.0" height="3.7"/><rect x="340.0" y="153.0" width="1.0" height="2.0"/><rect x="340.0" y="156.0" width="1.0" height="0.3"/><rect x="341.0" y="146.3" width="1.0" height="2.0"/><rect x="341.0" y="149.3" width="1.0" height="2.0"/><rect x="341.0" y="152.3" width="1.0" height="1.0"/><rect x="341.0" y="154.3" width="1.0" height="2.0"/><rect x="342.0" y="148.6" width="1.0" height="5.0"/><rect x="342.0" y="154.6" width="1.0" height="1.7"/><rect x="343.0" y="146.4" width="1.0" height="2.0"/><rect x="343.0" y="149.4" width="1.0" height="6.9"/><rect x="344.0" y="151.2" width="1.0" height="4.0"/><rect x="345.0" y="149.8" width="1.0" height="2.0"/><rect x="345.0" y="152.8" width="1.0" height="3.0"/><rect x="346.0" y="147.3" width="1.0" height="1.0"/><rect x="346.0" y="149.3" width="1.0" height="5.0"/><rect x="347.0" y="150.6" width="1.0" height="1.0"/><rect x="347.0" y="153.6" width="1.0" height="1.0"/><rect x="347.0" y="155.6" width="1.0" height="0.7"/><rect x="348.0" y="145.3" width="1.0" height="6.0"/><rect x="348.0" y="152.3" width="1.0" height="4.0"/><rect x="349.0" y="146.5" width="1.0" height="8.0"/><rect x="349.0" y="155.5" width="1.0" height="0.8"/><rect x="350.0" y="150.1" width="1.0" height="4.0"/><rect x="350.0" y="155.1" width="1.0" height="1.2"/><rect x="351.0" y="145.3" width="1.0" height="11.0"/><rect x="352.0" y="148.3" width="1.0" height="1.0"/><rect x="352.0" y="150.3" width="1.0" height="6.0"/><rect x="353.0" y="147.2" width="1.0" height="9.1"/><rect x="354.0" y="149.8" width="1.0" height="5.0"/><rect x="354.0" y="155.8" width="1.0" height="0.5"/><rect x="355.0" y="146.1" width="1.0" height="1.0"/><rect x="355.0" y="148.1" width="1.0" height="4.0"/><rect x="355.0" y="154.1" width="1.0" height="2.2"/><rect x="356.0" y="151.6" width="1.0" height="1.0"/><rect x="356.0" y="153.6" width="1.0" height="2.7"/><rect x="357.0" y="146.3" width="1.0" height="1.0"/><rect x="357.0" y="149.3" width="1.0" height="3.0"/><rect x="357.0" y="154.3" width="1.0" height="2.0"/><rect x="342.4" y="143.9" width="1.2" height="1.2"/><rect x="345.4" y="141.0" width="1.2" height="1.2"/><rect x="353.7" y="144.9" width="1.2" height="1.2"/><rect x="347.0" y="141.2" width="1.2" height="1.2"/><rect x="354.8" y="143.7" width="1.2" height="1.2"/></g>
<g fill="#111111"><rect x="358.3" y="155" width="20.2" height="25.2"/><rect x="358.3" y="151.8" width="1.0" height="3.5"/><rect x="359.3" y="147.9" width="1.0" height="7.4"/><rect x="360.3" y="148.9" width="1.0" height="6.4"/><rect x="361.3" y="151.1" width="1.0" height="2.0"/><rect x="361.3" y="154.1" width="1.0" height="1.2"/><rect x="362.3" y="149.5" width="1.0" height="3.0"/><rect x="362.3" y="154.5" width="1.0" height="0.8"/><rect x="363.3" y="149.3" width="1.0" height="1.0"/><rect x="363.3" y="151.3" width="1.0" height="1.0"/><rect x="363.3" y="153.3" width="1.0" height="2.0"/><rect x="364.3" y="149.2" width="1.0" height="2.0"/><rect x="364.3" y="154.2" width="1.0" height="1.1"/><rect x="365.3" y="148.3" width="1.0" height="3.0"/><rect x="365.3" y="152.3" width="1.0" height="3.0"/><rect x="366.3" y="150.8" width="1.0" height="1.0"/><rect x="366.3" y="153.8" width="1.0" height="1.5"/><rect x="367.3" y="149.9" width="1.0" height="4.0"/><rect x="368.3" y="151.0" width="1.0" height="2.0"/><rect x="368.3" y="154.0" width="1.0" height="1.3"/><rect x="369.3" y="151.3" width="1.0" height="4.0"/><rect x="370.3" y="150.1" width="1.0" height="3.0"/><rect x="370.3" y="154.1" width="1.0" height="1.2"/><rect x="371.3" y="149.5" width="1.0" height="5.8"/><rect x="372.3" y="151.3" width="1.0" height="1.0"/><rect x="372.3" y="154.3" width="1.0" height="1.0"/><rect x="373.3" y="148.6" width="1.0" height="1.0"/><rect x="373.3" y="151.6" width="1.0" height="3.0"/><rect x="374.3" y="150.8" width="1.0" height="4.0"/><rect x="375.3" y="150.8" width="1.0" height="1.0"/><rect x="375.3" y="152.8" width="1.0" height="1.0"/><rect x="375.3" y="154.8" width="1.0" height="0.5"/><rect x="376.3" y="148.6" width="1.0" height="2.0"/><rect x="376.3" y="151.6" width="1.0" height="3.7"/><rect x="377.3" y="148.9" width="1.0" height="4.0"/><rect x="377.3" y="153.9" width="1.0" height="1.4"/><rect x="370.7" y="147.8" width="1.2" height="1.2"/><rect x="371.4" y="146.9" width="1.2" height="1.2"/><rect x="360.0" y="146.2" width="1.2" height="1.2"/><rect x="359.1" y="147.1" width="1.2" height="1.2"/><rect x="361.4" y="146.3" width="1.2" height="1.2"/></g>
<g fill="#F4B8C8"><rect x="380.7" y="158" width="14.6" height="22.2"/><rect x="380.7" y="150.2" width="1.0" height="7.0"/><rect x="381.7" y="150.6" width="1.0" height="3.0"/><rect x="381.7" y="154.6" width="1.0" height="3.7"/><rect x="382.7" y="155.8" width="1.0" height="2.5"/><rect x="383.7" y="151.5" width="1.0" height="5.0"/><rect x="383.7" y="157.5" width="1.0" height="0.8"/><rect x="384.7" y="149.7" width="1.0" height="5.0"/><rect x="384.7" y="155.7" width="1.0" height="2.0"/><rect x="385.7" y="150.8" width="1.0" height="7.5"/><rect x="386.7" y="153.9" width="1.0" height="4.4"/><rect x="387.7" y="146.2" width="1.0" height="1.0"/><rect x="387.7" y="148.2" width="1.0" height="3.0"/><rect x="387.7" y="152.2" width="1.0" height="3.0"/><rect x="387.7" y="156.2" width="1.0" height="2.1"/><rect x="388.7" y="150.0" width="1.0" height="3.0"/><rect x="388.7" y="154.0" width="1.0" height="4.3"/><rect x="389.7" y="155.4" width="1.0" height="2.9"/><rect x="390.7" y="152.9" width="1.0" height="1.0"/><rect x="390.7" y="154.9" width="1.0" height="1.0"/><rect x="390.7" y="156.9" width="1.0" height="1.4"/><rect x="391.7" y="151.6" width="1.0" height="4.0"/><rect x="391.7" y="156.6" width="1.0" height="1.7"/><rect x="392.7" y="153.7" width="1.0" height="1.0"/><rect x="392.7" y="155.7" width="1.0" height="2.0"/><rect x="393.7" y="150.9" width="1.0" height="6.0"/><rect x="393.7" y="157.9" width="1.0" height="0.4"/><rect x="394.7" y="152.0" width="0.6" height="4.0"/><rect x="394.7" y="157.0" width="0.6" height="1.3"/><rect x="382.9" y="147.6" width="1.2" height="1.2"/><rect x="388.5" y="149.4" width="1.2" height="1.2"/><rect x="381.9" y="146.2" width="1.2" height="1.2"/></g>
<g fill="#3D7FB9"><rect x="397.4" y="156" width="13.3" height="24.2"/><rect x="397.4" y="151.4" width="1.0" height="1.0"/><rect x="397.4" y="154.4" width="1.0" height="1.0"/><rect x="398.4" y="150.3" width="1.0" height="3.0"/><rect x="398.4" y="155.3" width="1.0" height="1.0"/><rect x="399.4" y="150.4" width="1.0" height="5.0"/><rect x="400.4" y="145.2" width="1.0" height="2.0"/><rect x="400.4" y="148.2" width="1.0" height="8.1"/><rect x="401.4" y="150.3" width="1.0" height="1.0"/><rect x="401.4" y="152.3" width="1.0" height="4.0"/><rect x="402.4" y="152.8" width="1.0" height="2.0"/><rect x="402.4" y="155.8" width="1.0" height="0.5"/><rect x="403.4" y="150.8" width="1.0" height="5.5"/><rect x="404.4" y="151.4" width="1.0" height="2.0"/><rect x="404.4" y="154.4" width="1.0" height="1.9"/><rect x="405.4" y="150.8" width="1.0" height="4.0"/><rect x="405.4" y="155.8" width="1.0" height="0.5"/><rect x="406.4" y="152.1" width="1.0" height="4.2"/><rect x="407.4" y="151.9" width="1.0" height="4.4"/><rect x="408.4" y="149.5" width="1.0" height="3.0"/><rect x="408.4" y="153.5" width="1.0" height="2.0"/><rect x="409.4" y="149.3" width="1.0" height="7.0"/><rect x="398.8" y="145.8" width="1.2" height="1.2"/><rect x="398.9" y="148.1" width="1.2" height="1.2"/><rect x="405.8" y="146.3" width="1.2" height="1.2"/></g>
<g fill="#BF255E"><rect x="413.3" y="157" width="11.4" height="23.2"/><rect x="413.3" y="148.5" width="1.0" height="1.0"/><rect x="413.3" y="150.5" width="1.0" height="6.8"/><rect x="414.3" y="151.8" width="1.0" height="5.5"/><rect x="415.3" y="149.1" width="1.0" height="8.2"/><rect x="416.3" y="150.7" width="1.0" height="6.6"/><rect x="417.3" y="149.8" width="1.0" height="7.5"/><rect x="418.3" y="147.9" width="1.0" height="9.4"/><rect x="419.3" y="150.0" width="1.0" height="7.0"/><rect x="420.3" y="145.5" width="1.0" height="5.0"/><rect x="420.3" y="152.5" width="1.0" height="4.8"/><rect x="421.3" y="147.4" width="1.0" height="2.0"/><rect x="421.3" y="150.4" width="1.0" height="6.9"/><rect x="422.3" y="149.9" width="1.0" height="3.0"/><rect x="422.3" y="153.9" width="1.0" height="3.0"/><rect x="423.3" y="147.1" width="1.0" height="7.0"/><rect x="423.3" y="155.1" width="1.0" height="1.0"/><rect x="424.3" y="150.8" width="0.4" height="1.0"/><rect x="424.3" y="152.8" width="0.4" height="4.5"/><rect x="417.7" y="147.3" width="1.2" height="1.2"/><rect x="421.9" y="146.3" width="1.2" height="1.2"/></g>
<g fill="#F28A72"><rect x="424.7" y="158" width="5.3" height="22.2"/><rect x="424.7" y="153.1" width="1.0" height="1.0"/><rect x="424.7" y="156.1" width="1.0" height="2.2"/><rect x="425.7" y="149.8" width="1.0" height="1.0"/><rect x="425.7" y="151.8" width="1.0" height="2.0"/><rect x="425.7" y="154.8" width="1.0" height="2.0"/><rect x="426.7" y="147.1" width="1.0" height="1.0"/><rect x="426.7" y="149.1" width="1.0" height="3.0"/><rect x="426.7" y="153.1" width="1.0" height="3.0"/><rect x="426.7" y="157.1" width="1.0" height="1.2"/><rect x="427.7" y="150.6" width="1.0" height="4.0"/><rect x="427.7" y="155.6" width="1.0" height="2.7"/><rect x="428.7" y="149.7" width="1.0" height="5.0"/><rect x="428.7" y="155.7" width="1.0" height="2.6"/><rect x="427.6" y="146.8" width="1.2" height="1.2"/><rect x="431.8" y="158" width="6.5" height="22.2"/><rect x="431.8" y="154.1" width="1.0" height="2.0"/><rect x="431.8" y="157.1" width="1.0" height="1.2"/><rect x="432.8" y="147.1" width="1.0" height="1.0"/><rect x="432.8" y="149.1" width="1.0" height="3.0"/><rect x="432.8" y="153.1" width="1.0" height="3.0"/><rect x="432.8" y="157.1" width="1.0" height="1.2"/><rect x="433.8" y="154.4" width="1.0" height="2.0"/><rect x="433.8" y="157.4" width="1.0" height="0.9"/><rect x="434.8" y="150.9" width="1.0" height="2.0"/><rect x="434.8" y="154.9" width="1.0" height="3.0"/><rect x="435.8" y="150.0" width="1.0" height="2.0"/><rect x="435.8" y="153.0" width="1.0" height="5.3"/><rect x="436.8" y="154.1" width="1.0" height="1.0"/><rect x="436.8" y="156.1" width="1.0" height="1.0"/><rect x="437.8" y="151.1" width="0.5" height="3.0"/><rect x="437.8" y="157.1" width="0.5" height="1.2"/><rect x="436.5" y="148.2" width="1.2" height="1.2"/></g>
<g fill="#D39BCE"><rect x="438.3" y="157" width="11.6" height="23.2"/><rect x="438.3" y="149.5" width="1.0" height="7.8"/><rect x="439.3" y="148.8" width="1.0" height="4.0"/><rect x="439.3" y="153.8" width="1.0" height="3.5"/><rect x="440.3" y="151.9" width="1.0" height="1.0"/><rect x="440.3" y="153.9" width="1.0" height="3.0"/><rect x="441.3" y="153.1" width="1.0" height="4.2"/><rect x="442.3" y="149.4" width="1.0" height="7.9"/><rect x="443.3" y="149.1" width="1.0" height="3.0"/><rect x="443.3" y="153.1" width="1.0" height="4.2"/><rect x="444.3" y="152.2" width="1.0" height="2.0"/><rect x="444.3" y="155.2" width="1.0" height="2.1"/><rect x="445.3" y="150.4" width="1.0" height="2.0"/><rect x="445.3" y="153.4" width="1.0" height="2.0"/><rect x="446.3" y="151.9" width="1.0" height="4.0"/><rect x="447.3" y="150.4" width="1.0" height="1.0"/><rect x="447.3" y="152.4" width="1.0" height="2.0"/><rect x="447.3" y="155.4" width="1.0" height="1.9"/><rect x="448.3" y="151.7" width="1.0" height="4.0"/><rect x="448.3" y="156.7" width="1.0" height="0.6"/><rect x="449.3" y="149.0" width="0.6" height="4.0"/><rect x="449.3" y="154.0" width="0.6" height="3.3"/><rect x="445.8" y="147.9" width="1.2" height="1.2"/><rect x="447.5" y="148.8" width="1.2" height="1.2"/></g>
<g fill="#1F7B36"><rect x="449.9" y="156" width="11.3" height="24.2"/><rect x="449.9" y="151.7" width="1.0" height="2.0"/><rect x="449.9" y="154.7" width="1.0" height="1.6"/><rect x="450.9" y="146.9" width="1.0" height="9.4"/><rect x="451.9" y="146.9" width="1.0" height="4.0"/><rect x="451.9" y="152.9" width="1.0" height="3.4"/><rect x="452.9" y="146.4" width="1.0" height="1.0"/><rect x="452.9" y="148.4" width="1.0" height="2.0"/><rect x="452.9" y="151.4" width="1.0" height="3.0"/><rect x="453.9" y="145.3" width="1.0" height="5.0"/><rect x="453.9" y="152.3" width="1.0" height="2.0"/><rect x="453.9" y="155.3" width="1.0" height="1.0"/><rect x="454.9" y="150.6" width="1.0" height="4.0"/><rect x="455.9" y="147.9" width="1.0" height="5.0"/><rect x="455.9" y="153.9" width="1.0" height="2.0"/><rect x="456.9" y="151.0" width="1.0" height="2.0"/><rect x="456.9" y="154.0" width="1.0" height="2.3"/><rect x="457.9" y="149.5" width="1.0" height="6.8"/><rect x="458.9" y="150.3" width="1.0" height="2.0"/><rect x="458.9" y="153.3" width="1.0" height="2.0"/><rect x="459.9" y="147.4" width="1.0" height="2.0"/><rect x="459.9" y="150.4" width="1.0" height="5.9"/><rect x="458.0" y="144.1" width="1.2" height="1.2"/><rect x="454.8" y="144.3" width="1.2" height="1.2"/></g>
<g fill="#2A2C7C"><rect x="461.2" y="153" width="8.8" height="27.2"/><rect x="461.2" y="142.3" width="1.0" height="6.0"/><rect x="461.2" y="149.3" width="1.0" height="2.0"/><rect x="461.2" y="152.3" width="1.0" height="1.0"/><rect x="462.2" y="145.8" width="1.0" height="1.0"/><rect x="462.2" y="147.8" width="1.0" height="1.0"/><rect x="462.2" y="149.8" width="1.0" height="1.0"/><rect x="462.2" y="151.8" width="1.0" height="1.0"/><rect x="463.2" y="147.3" width="1.0" height="2.0"/><rect x="463.2" y="151.3" width="1.0" height="2.0"/><rect x="464.2" y="150.0" width="1.0" height="3.3"/><rect x="465.2" y="147.0" width="1.0" height="6.3"/><rect x="466.2" y="145.9" width="1.0" height="2.0"/><rect x="466.2" y="148.9" width="1.0" height="4.4"/><rect x="467.2" y="147.9" width="1.0" height="2.0"/><rect x="467.2" y="150.9" width="1.0" height="2.0"/><rect x="468.2" y="146.5" width="1.0" height="1.0"/><rect x="468.2" y="148.5" width="1.0" height="4.8"/><rect x="469.2" y="147.7" width="0.8" height="5.0"/><rect x="463.8" y="143.7" width="1.2" height="1.2"/><rect x="461.8" y="143.2" width="1.2" height="1.2"/></g>
<g fill="#D7D92C"><rect x="470.2" y="157" width="10.0" height="23.2"/><rect x="470.2" y="149.8" width="1.0" height="3.0"/><rect x="470.2" y="153.8" width="1.0" height="1.0"/><rect x="470.2" y="155.8" width="1.0" height="1.0"/><rect x="471.2" y="150.9" width="1.0" height="2.0"/><rect x="471.2" y="154.9" width="1.0" height="2.4"/><rect x="472.2" y="155.7" width="1.0" height="1.6"/><rect x="473.2" y="151.1" width="1.0" height="5.0"/><rect x="474.2" y="151.1" width="1.0" height="6.2"/><rect x="475.2" y="150.4" width="1.0" height="6.9"/><rect x="476.2" y="153.1" width="1.0" height="4.2"/><rect x="477.2" y="152.0" width="1.0" height="2.0"/><rect x="477.2" y="155.0" width="1.0" height="2.3"/><rect x="478.2" y="152.2" width="1.0" height="4.0"/><rect x="479.2" y="149.7" width="1.0" height="7.6"/><rect x="474.2" y="149.3" width="1.2" height="1.2"/><rect x="471.4" y="149.8" width="1.2" height="1.2"/></g>
<g fill="#E0242B"><rect x="481.2" y="155" width="5.9" height="25.2"/><rect x="481.2" y="151.2" width="1.0" height="2.0"/><rect x="481.2" y="154.2" width="1.0" height="1.1"/><rect x="482.2" y="151.2" width="1.0" height="4.1"/><rect x="483.2" y="152.3" width="1.0" height="3.0"/><rect x="484.2" y="152.6" width="1.0" height="2.7"/><rect x="485.2" y="152.4" width="1.0" height="2.0"/><rect x="486.2" y="151.9" width="0.9" height="3.4"/><rect x="484.5" y="149.6" width="1.2" height="1.2"/></g>
<g fill="#2E4DA7"><rect x="488.9" y="156" width="6.0" height="24.2"/><rect x="488.9" y="152.1" width="1.0" height="3.0"/><rect x="489.9" y="154.3" width="1.0" height="2.0"/><rect x="490.9" y="155.1" width="1.0" height="1.2"/><rect x="491.9" y="152.4" width="1.0" height="1.0"/><rect x="491.9" y="154.4" width="1.0" height="1.0"/><rect x="492.9" y="153.7" width="1.0" height="2.6"/><rect x="493.9" y="153.7" width="1.0" height="2.6"/><rect x="490.1" y="152.1" width="1.2" height="1.2"/></g>
<line x1="87.5" y1="136.2" x2="87.5" y2="137.9" stroke="#3552A5" stroke-width="3.3" stroke-linecap="round"/>
<circle cx="87.6" cy="143.4" r="1.3" fill="#3552A5"/>
<circle cx="87.4" cy="147.5" r="1.3" fill="#3552A5"/>
<circle cx="102.4" cy="144.5" r="1.1" fill="#3552A5"/>
<line x1="87.4" y1="148.9" x2="87.4" y2="157.1" stroke="#3552A5" stroke-width="1.8" stroke-linecap="round"/>
<line x1="153.4" y1="135.6" x2="153.4" y2="137.1" stroke="#5CB946" stroke-width="3.6" stroke-linecap="round"/>
<circle cx="145.5" cy="144.2" r="1.1" fill="#5CB946"/>
<line x1="153.5" y1="143.8" x2="153.5" y2="148.2" stroke="#5CB946" stroke-width="1.6" stroke-linecap="round"/>
<circle cx="158" cy="144.5" r="1.1" fill="#5CB946"/>
<circle cx="166.5" cy="144.2" r="1.1" fill="#5CB946"/>
<line x1="213.5" y1="115.0" x2="213.5" y2="117.6" stroke="#A8D5E8" stroke-width="3.4" stroke-linecap="round"/>
<line x1="213.5" y1="137.8" x2="213.5" y2="141.8" stroke="#A8D5E8" stroke-width="2.4" stroke-linecap="round"/>
<line x1="248.3" y1="92.6" x2="248.3" y2="100.1" stroke="#8050A2" stroke-width="4.2" stroke-linecap="round"/>
<circle cx="248.3" cy="114.5" r="2.2" fill="#8050A2"/>
<circle cx="248.3" cy="120.3" r="2.2" fill="#8050A2"/>
<circle cx="248.3" cy="133.4" r="1.9" fill="#8050A2"/>
<circle cx="248.3" cy="138.6" r="1.9" fill="#8050A2"/>
<circle cx="252.2" cy="145" r="1.5" fill="#8050A2"/>
<line x1="271.4" y1="129.8" x2="271.4" y2="155.7" stroke="#F5A623" stroke-width="2.6" stroke-linecap="round"/>
<line x1="268" y1="142.8" x2="268" y2="156.2" stroke="#F5A623" stroke-width="1.6" stroke-linecap="round"/>
<line x1="266.4" y1="144.7" x2="266.4" y2="156.3" stroke="#F5A623" stroke-width="1.4" stroke-linecap="round"/>
<line x1="277.8" y1="112.3" x2="277.8" y2="155.2" stroke="#A94A9F" stroke-width="3.6" stroke-linecap="round"/>
<circle cx="285.6" cy="137.8" r="1.5" fill="#A94A9F"/>
<circle cx="285.6" cy="142.5" r="1.2" fill="#A94A9F"/>
<line x1="297" y1="131.9" x2="297" y2="132.4" stroke="#A94A9F" stroke-width="2.8" stroke-linecap="round"/>
<line x1="301.2" y1="132.6" x2="301.2" y2="135.8" stroke="#E2262B" stroke-width="3.2" stroke-linecap="round"/>
<line x1="301" y1="137.8" x2="301" y2="155.2" stroke="#E2262B" stroke-width="1.6" stroke-linecap="round"/>
<circle cx="309.8" cy="138.3" r="1.8" fill="#E2262B"/>
<line x1="313" y1="141.4" x2="313" y2="155.2" stroke="#E2262B" stroke-width="1.6" stroke-linecap="round"/>
<circle cx="334.4" cy="137.7" r="1.5" fill="#9ACE87"/>
<line x1="334.4" y1="137.8" x2="334.4" y2="151.2" stroke="#9ACE87" stroke-width="1.6" stroke-linecap="round"/>
<circle cx="374.8" cy="94.9" r="2.1" fill="#111111"/>
<circle cx="374.8" cy="98.1" r="2.1" fill="#111111"/>
<circle cx="374.8" cy="101.3" r="2.1" fill="#111111"/>
<circle cx="374.8" cy="104.3" r="2.0" fill="#111111"/>
<circle cx="374.8" cy="107.2" r="1.9" fill="#111111"/>
<circle cx="374.8" cy="126.5" r="1.8" fill="#111111"/>
<circle cx="374.8" cy="130.3" r="1.8" fill="#111111"/>
<circle cx="374.8" cy="134.1" r="1.8" fill="#111111"/>
<circle cx="374.8" cy="137.9" r="1.7" fill="#111111"/>
<line x1="374.8" y1="141.2" x2="374.8" y2="150.8" stroke="#111111" stroke-width="2.4" stroke-linecap="round"/>
<circle cx="394" cy="140.7" r="1.5" fill="#F4B8C8"/>
<line x1="421.2" y1="131.2" x2="421.2" y2="136.4" stroke="#BF255E" stroke-width="3.2" stroke-linecap="round"/>
<line x1="421.2" y1="140.7" x2="421.2" y2="151.3" stroke="#BF255E" stroke-width="1.4" stroke-linecap="round"/>
<circle cx="469.3" cy="42.8" r="1.9" fill="#2A2C7C"/>
<line x1="469.2" y1="59.3" x2="469.2" y2="72.2" stroke="#2A2C7C" stroke-width="3.6" stroke-linecap="round"/>
<circle cx="469.3" cy="95.3" r="1.9" fill="#2A2C7C"/>
<circle cx="469.3" cy="103.3" r="1.9" fill="#2A2C7C"/>
<line x1="469.2" y1="112.4" x2="469.2" y2="137.2" stroke="#2A2C7C" stroke-width="3.6" stroke-linecap="round"/>
<line x1="469.2" y1="140.1" x2="469.2" y2="148.9" stroke="#2A2C7C" stroke-width="2.2" stroke-linecap="round"/>
<circle cx="482.2" cy="145.2" r="1.6" fill="#E0242B"/>
<circle cx="484.9" cy="149.9" r="1.3" fill="#E0242B"/>
<circle cx="491.4" cy="148.7" r="1.1" fill="#2E4DA7"/>
<line x1="491.9" y1="153.6" x2="491.9" y2="154.9" stroke="#2E4DA7" stroke-width="4.2" stroke-linecap="round"/>
<rect x="54.6" y="25" width="456.4" height="160.2" fill="none" stroke="#222" stroke-width="1.3"/>
<line x1="88.3" y1="185.2" x2="88.3" y2="189" stroke="#222" stroke-width="1"/><text transform="translate(92.2,194) rotate(-90)" text-anchor="end" font-size="10.2">1</text><line x1="124.6" y1="185.2" x2="124.6" y2="189" stroke="#222" stroke-width="1"/><text transform="translate(128.5,194) rotate(-90)" text-anchor="end" font-size="10.2">2</text><line x1="158.8" y1="185.2" x2="158.8" y2="189" stroke="#222" stroke-width="1"/><text transform="translate(162.7,194) rotate(-90)" text-anchor="end" font-size="10.2">3</text><line x1="187" y1="185.2" x2="187" y2="189" stroke="#222" stroke-width="1"/><text transform="translate(190.9,194) rotate(-90)" text-anchor="end" font-size="10.2">4</text><line x1="214.5" y1="185.2" x2="214.5" y2="189" stroke="#222" stroke-width="1"/><text transform="translate(218.4,194) rotate(-90)" text-anchor="end" font-size="10.2">5</text><line x1="240.5" y1="185.2" x2="240.5" y2="189" stroke="#222" stroke-width="1"/><text transform="translate(244.4,194) rotate(-90)" text-anchor="end" font-size="10.2">6</text><line x1="264.5" y1="185.2" x2="264.5" y2="189" stroke="#222" stroke-width="1"/><text transform="translate(268.4,194) rotate(-90)" text-anchor="end" font-size="10.2">7</text><line x1="287.5" y1="185.2" x2="287.5" y2="189" stroke="#222" stroke-width="1"/><text transform="translate(291.4,194) rotate(-90)" text-anchor="end" font-size="10.2">8</text><line x1="309.5" y1="185.2" x2="309.5" y2="189" stroke="#222" stroke-width="1"/><text transform="translate(313.4,194) rotate(-90)" text-anchor="end" font-size="10.2">9</text><line x1="330" y1="185.2" x2="330" y2="189" stroke="#222" stroke-width="1"/><text transform="translate(333.9,194) rotate(-90)" text-anchor="end" font-size="10.2">10</text><line x1="350" y1="185.2" x2="350" y2="189" stroke="#222" stroke-width="1"/><text transform="translate(353.9,194) rotate(-90)" text-anchor="end" font-size="10.2">11</text><line x1="368" y1="185.2" x2="368" y2="189" stroke="#222" stroke-width="1"/><text transform="translate(371.9,194) rotate(-90)" text-anchor="end" font-size="10.2">12</text><line x1="387.8" y1="185.2" x2="387.8" y2="189" stroke="#222" stroke-width="1"/><text transform="translate(391.7,194) rotate(-90)" text-anchor="end" font-size="10.2">13</text><line x1="403.9" y1="185.2" x2="403.9" y2="189" stroke="#222" stroke-width="1"/><text transform="translate(407.8,194) rotate(-90)" text-anchor="end" font-size="10.2">14</text><line x1="419" y1="185.2" x2="419" y2="189" stroke="#222" stroke-width="1"/><text transform="translate(422.9,194) rotate(-90)" text-anchor="end" font-size="10.2">15</text><line x1="433.2" y1="185.2" x2="433.2" y2="189" stroke="#222" stroke-width="1"/><text transform="translate(437.1,194) rotate(-90)" text-anchor="end" font-size="10.2">16</text><line x1="443.6" y1="185.2" x2="443.6" y2="189" stroke="#222" stroke-width="1"/><text transform="translate(447.5,194) rotate(-90)" text-anchor="end" font-size="10.2">17</text><line x1="456.6" y1="185.2" x2="456.6" y2="189" stroke="#222" stroke-width="1"/><text transform="translate(460.5,194) rotate(-90)" text-anchor="end" font-size="10.2">18</text><line x1="465.7" y1="185.2" x2="465.7" y2="189" stroke="#222" stroke-width="1"/><text transform="translate(469.6,194) rotate(-90)" text-anchor="end" font-size="10.2">19</text><line x1="473.5" y1="185.2" x2="473.5" y2="189" stroke="#222" stroke-width="1"/><text transform="translate(477.4,194) rotate(-90)" text-anchor="end" font-size="10.2">20</text><line x1="483.9" y1="185.2" x2="483.9" y2="189" stroke="#222" stroke-width="1"/><text transform="translate(487.8,194) rotate(-90)" text-anchor="end" font-size="10.2">21</text><line x1="491.4" y1="185.2" x2="491.4" y2="189" stroke="#222" stroke-width="1"/><text transform="translate(495.3,194) rotate(-90)" text-anchor="end" font-size="10.2">22</text>
<line x1="50.4" y1="179.3" x2="54.6" y2="179.3" stroke="#222" stroke-width="1.1"/><text x="45.1" y="183.60000000000002" text-anchor="end" font-size="12.1">0</text><line x1="50.4" y1="140.3" x2="54.6" y2="140.3" stroke="#222" stroke-width="1.1"/><text x="45.1" y="144.60000000000002" text-anchor="end" font-size="12.1">5</text><line x1="50.4" y1="101.4" x2="54.6" y2="101.4" stroke="#222" stroke-width="1.1"/><text x="45.1" y="105.7" text-anchor="end" font-size="12.1">10</text><line x1="50.4" y1="62.4" x2="54.6" y2="62.4" stroke="#222" stroke-width="1.1"/><text x="45.1" y="66.7" text-anchor="end" font-size="12.1">15</text>
<text transform="translate(18.6,127) rotate(-90)" font-size="11">-Log<tspan font-size="7.5" dy="2">10</tspan><tspan dy="-2">(P)</tspan></text>
<text x="251.7" y="220.9" font-size="13.3" textLength="61.5" lengthAdjust="spacingAndGlyphs">Chromosome</text>
<line x1="271.1" y1="228.6" x2="271.1" y2="258" stroke="#111" stroke-width="1.4"/>
<path d="M264.8,252.4 L265.8,252.2 L271.1,256.6 L276.4,252.2 L277.4,252.4 L271.1,266.2 Z" fill="#111"/>
<text x="85.1" y="280" font-size="10.64" textLength="371">FVIII <tspan font-style="italic">(ST3GAL4, CLEC4M, B3GNT2, ASGR1, F12, KNG1, </tspan>and <tspan font-style="italic">TREM1/NCR2)</tspan></text>
<text x="230.6" y="293.4" font-size="10.5" textLength="77">VWF <tspan font-style="italic">(B3GNT2)</tspan>.</text>
<text x="328.8" y="313.2" font-size="10.95" textLength="148.6">Gene Knockdown with siRNAs</text>
<text x="383.3" y="334.3" font-size="10.8">VWF</text>
<text x="457.8" y="334.3" font-size="10.8">VWF</text>
<text x="328" y="347.4" font-size="10.6" textLength="20.8">FVIII</text>
<text x="365.6" y="347.4" font-size="10.9">Histamine +</text>
<text x="440.9" y="347.4" font-size="10.9">Histamine –</text>
<text x="50.5" y="369.3" font-size="10.56" textLength="104.5">HLEC or HUVEC cells</text>
<g font-style="italic" font-size="10.8">
<text x="230.2" y="400" textLength="27.6">CD36</text>
<text x="216" y="429.8" textLength="42">B3GNT2</text>
<text x="224.4" y="459.4" textLength="33.6">PDIA3</text>
</g>
<g>
<path d="M10.1,411 A89.4,30 0 0 1 188.9,411 L188.9,424 A89.4,30.5 0 0 1 10.1,424 Z" fill="#E8EBEC"/>
<clipPath id="dc"><path d="M10.1,411 A89.4,30 0 0 1 188.9,411 L188.9,424 A89.4,30.5 0 0 1 10.1,424 Z"/></clipPath>
<clipPath id="pc"><ellipse cx="99.2" cy="425.9" rx="86.3" ry="29.9"/></clipPath>
<g clip-path="url(#dc)">
<ellipse cx="99.2" cy="425.9" rx="86.3" ry="29.9" fill="#EF7590" stroke="#d5667f" stroke-width="0.7"/>
<g clip-path="url(#pc)"><path d="M102.6,429.0 L95.7,428.7 L86.5,429.9 L91.4,426.8 L87.0,424.5 L94.0,425.5 L98.4,424.5 L97.9,426.8Z" fill="#F6F1F1"/><ellipse cx="94.6" cy="427.1" rx="2.6" ry="1.1" fill="#AFC4BF"/>
<path d="M44.2,423.0 L50.3,423.0 L55.3,420.8 L53.8,424.7 L50.0,429.9 L47.5,425.4Z" fill="#F6F1F1"/><ellipse cx="50.5" cy="424.6" rx="2.6" ry="1.1" fill="#AFC4BF"/>
<path d="M134.8,439.2 L126.3,440.4 L122.0,443.0 L121.1,440.1 L113.3,438.1 L122.1,437.9 L124.2,433.9 L126.3,438.1Z" fill="#F6F1F1"/><ellipse cx="123.9" cy="439.2" rx="2.6" ry="1.1" fill="#AFC4BF"/>
<path d="M122.7,433.1 L124.6,430.1 L125.8,426.0 L129.6,428.6 L137.1,427.3 L131.1,430.4 L134.2,433.3 L127.8,431.7Z" fill="#F6F1F1"/><ellipse cx="127.9" cy="430.0" rx="2.6" ry="1.1" fill="#AFC4BF"/>
<path d="M99.9,443.0 L94.6,443.1 L87.6,446.1 L89.7,442.5 L84.3,442.8 L89.6,441.2 L87.7,438.9 L92.5,440.2 L100.1,439.7 L96.0,442.0Z" fill="#F6F1F1"/><ellipse cx="92.7" cy="441.8" rx="2.6" ry="1.1" fill="#AFC4BF"/>
<path d="M113.3,432.7 L107.1,432.8 L105.0,435.2 L103.1,432.4 L96.3,431.0 L103.5,430.1 L109.2,426.5 L108.7,430.6Z" fill="#F6F1F1"/><ellipse cx="105.7" cy="431.3" rx="2.6" ry="1.1" fill="#AFC4BF"/>
<path d="M105.7,411.1 L98.3,413.3 L94.0,417.7 L92.8,413.5 L85.7,414.3 L92.4,411.8 L90.6,408.3 L96.3,410.9Z" fill="#F6F1F1"/><ellipse cx="95.5" cy="412.5" rx="2.6" ry="1.1" fill="#AFC4BF"/>
<path d="M159.2,430.0 L160.7,433.5 L166.5,433.8 L161.7,435.4 L159.9,438.4 L157.2,436.3 L154.0,439.0 L155.6,435.5 L149.8,433.5 L156.6,433.5Z" fill="#F6F1F1"/><ellipse cx="158.6" cy="434.8" rx="2.6" ry="1.1" fill="#AFC4BF"/>
<path d="M66.8,414.3 L69.0,410.6 L61.8,410.3 L69.2,409.1 L71.8,404.5 L73.9,408.6 L79.4,408.2 L75.3,410.3 L77.6,411.6 L73.3,411.5Z" fill="#F6F1F1"/><ellipse cx="72.0" cy="409.9" rx="2.6" ry="1.1" fill="#AFC4BF"/>
<path d="M149.4,424.3 L144.8,420.2 L137.5,422.7 L143.1,418.7 L141.4,414.6 L147.3,417.2 L153.9,415.8 L149.7,419.0Z" fill="#F6F1F1"/><ellipse cx="146.4" cy="418.8" rx="2.6" ry="1.1" fill="#AFC4BF"/>
<path d="M171.1,420.0 L161.1,419.6 L154.1,423.4 L156.5,418.6 L151.9,415.1 L159.3,416.5 L162.6,414.1 L162.7,417.4Z" fill="#F6F1F1"/><ellipse cx="159.7" cy="418.1" rx="2.6" ry="1.1" fill="#AFC4BF"/>
<path d="M164.5,420.9 L169.3,420.9 L172.5,417.4 L173.0,421.6 L177.9,424.7 L171.0,424.0 L165.8,424.7 L166.9,422.4Z" fill="#F6F1F1"/><ellipse cx="170.2" cy="422.4" rx="2.6" ry="1.1" fill="#AFC4BF"/>
<path d="M153.9,415.8 L148.4,413.7 L145.9,415.3 L145.7,412.9 L141.9,412.2 L145.7,411.1 L145.6,408.0 L149.4,410.4 L153.4,410.4 L151.8,412.1Z" fill="#F6F1F1"/><ellipse cx="148.5" cy="412.0" rx="2.6" ry="1.1" fill="#AFC4BF"/>
<path d="M111.1,425.6 L109.6,422.3 L103.4,421.1 L110.1,420.0 L108.1,417.8 L113.1,419.7 L119.4,421.1 L114.7,422.4Z" fill="#F6F1F1"/><ellipse cx="112.3" cy="421.3" rx="2.6" ry="1.1" fill="#AFC4BF"/>
<path d="M54.1,441.8 L50.2,437.6 L42.1,437.4 L48.4,435.5 L44.4,433.1 L50.7,434.5 L54.2,431.5 L54.1,435.1 L61.4,438.3 L53.1,437.5Z" fill="#F6F1F1"/><ellipse cx="51.5" cy="436.1" rx="2.6" ry="1.1" fill="#AFC4BF"/>
<path d="M47.8,432.6 L43.0,433.0 L39.2,434.2 L38.5,432.1 L36.9,429.1 L41.6,429.8 L47.4,428.6 L44.9,431.5Z" fill="#F6F1F1"/><ellipse cx="41.6" cy="431.5" rx="2.6" ry="1.1" fill="#AFC4BF"/>
<path d="M41.8,424.9 L38.0,421.4 L29.6,423.5 L35.9,419.9 L28.6,418.0 L37.4,418.5 L45.2,415.0 L42.3,419.3 L50.3,419.6 L42.0,420.8Z" fill="#F6F1F1"/><ellipse cx="39.2" cy="419.9" rx="2.6" ry="1.1" fill="#AFC4BF"/>
<path d="M64.8,413.2 L56.8,413.4 L50.2,415.7 L51.9,412.3 L43.7,410.5 L53.5,410.6 L59.5,408.2 L58.3,411.6Z" fill="#F6F1F1"/><ellipse cx="55.1" cy="412.0" rx="2.6" ry="1.1" fill="#AFC4BF"/>
<path d="M60.6,416.5 L58.0,418.8 L56.6,421.8 L53.1,419.9 L48.5,421.2 L51.5,418.4 L49.9,415.6 L55.1,416.9Z" fill="#F6F1F1"/><ellipse cx="54.8" cy="418.5" rx="2.6" ry="1.1" fill="#AFC4BF"/>
<path d="M68.1,429.8 L62.1,430.6 L55.2,434.1 L57.0,429.8 L52.1,426.8 L59.3,427.7 L63.0,426.1 L63.2,428.7Z" fill="#F6F1F1"/><ellipse cx="60.1" cy="429.3" rx="2.6" ry="1.1" fill="#AFC4BF"/>
<path d="M92.5,423.2 L82.9,423.0 L82.3,427.4 L79.2,422.8 L70.1,422.4 L78.7,420.6 L84.8,416.2 L84.3,420.8Z" fill="#F6F1F1"/><ellipse cx="81.3" cy="421.6" rx="2.6" ry="1.1" fill="#AFC4BF"/>
<path d="M115.6,447.5 L112.7,444.3 L107.6,442.8 L112.7,441.8 L115.4,439.0 L117.3,442.0 L124.0,444.1 L116.6,444.4Z" fill="#F6F1F1"/><ellipse cx="114.8" cy="443.1" rx="2.6" ry="1.1" fill="#AFC4BF"/>
<path d="M161.1,426.1 L166.2,427.8 L172.4,428.9 L168.2,430.4 L165.6,433.2 L163.2,430.6 L156.3,429.4 L163.2,428.2Z" fill="#F6F1F1"/><ellipse cx="165.6" cy="429.4" rx="2.6" ry="1.1" fill="#AFC4BF"/>
<path d="M120.0,410.4 L121.3,412.4 L127.2,412.6 L121.1,414.2 L118.8,417.7 L116.2,414.5 L111.9,413.4 L116.0,412.1Z" fill="#F6F1F1"/><ellipse cx="118.4" cy="413.3" rx="2.6" ry="1.1" fill="#AFC4BF"/>
<path d="M93.0,438.3 L96.3,435.7 L96.1,430.7 L101.0,434.5 L107.2,435.0 L102.4,436.8 L99.6,440.3 L97.2,437.2Z" fill="#F6F1F1"/><ellipse cx="99.6" cy="436.0" rx="2.6" ry="1.1" fill="#AFC4BF"/>
<path d="M136.0,437.6 L138.3,434.6 L131.8,432.7 L140.3,433.1 L144.2,430.9 L144.6,433.9 L151.3,437.8 L142.3,436.2Z" fill="#F6F1F1"/><ellipse cx="141.6" cy="434.6" rx="2.6" ry="1.1" fill="#AFC4BF"/>
<path d="M71.2,436.2 L74.8,433.4 L69.6,431.9 L76.8,432.1 L79.5,430.0 L80.8,432.7 L84.4,436.3 L78.3,435.3Z" fill="#F6F1F1"/><ellipse cx="78.1" cy="433.6" rx="2.6" ry="1.1" fill="#AFC4BF"/>
<path d="M135.2,419.0 L125.0,419.2 L126.7,423.7 L121.6,419.3 L113.8,416.7 L121.4,416.5 L126.3,413.7 L126.1,417.2Z" fill="#F6F1F1"/><ellipse cx="123.1" cy="417.9" rx="2.6" ry="1.1" fill="#AFC4BF"/>
<path d="M148.3,425.0 L144.4,428.7 L144.4,432.3 L139.2,429.5 L133.3,427.2 L140.4,426.6Z" fill="#F6F1F1"/><ellipse cx="141.3" cy="428.2" rx="2.6" ry="1.1" fill="#AFC4BF"/>
<path d="M132.9,419.8 L136.8,422.4 L142.9,423.4 L137.8,424.9 L134.8,427.1 L132.7,424.9 L126.4,424.6 L132.5,422.9Z" fill="#F6F1F1"/><ellipse cx="135.2" cy="423.9" rx="2.6" ry="1.1" fill="#AFC4BF"/>
<path d="M113.7,420.6 L122.1,422.1 L129.5,420.3 L126.5,423.4 L133.2,426.3 L124.7,425.2 L127.3,428.4 L122.5,425.3 L115.0,423.6 L120.6,422.7Z" fill="#F6F1F1"/><ellipse cx="123.2" cy="423.7" rx="2.6" ry="1.1" fill="#AFC4BF"/>
<path d="M71.3,445.3 L69.5,442.7 L61.5,442.8 L69.3,440.7 L73.3,438.2 L74.8,440.7 L83.2,442.8 L73.8,443.0Z" fill="#F6F1F1"/><ellipse cx="72.0" cy="441.6" rx="2.6" ry="1.1" fill="#AFC4BF"/>
<path d="M140.0,412.4 L132.7,410.0 L125.6,412.9 L129.7,408.5 L122.2,405.8 L131.8,406.8 L141.5,406.0 L136.1,408.8Z" fill="#F6F1F1"/><ellipse cx="132.9" cy="408.4" rx="2.6" ry="1.1" fill="#AFC4BF"/>
<path d="M104.9,403.8 L101.6,407.0 L104.3,409.7 L99.3,408.9 L91.6,412.1 L95.3,407.8 L89.1,406.4 L96.1,406.1 L96.5,402.5 L99.8,405.8Z" fill="#F6F1F1"/><ellipse cx="98.4" cy="407.3" rx="2.6" ry="1.1" fill="#AFC4BF"/>
<path d="M55.2,417.1 L62.7,414.8 L66.4,411.2 L68.0,415.4 L71.7,419.6 L64.0,417.6Z" fill="#F6F1F1"/><ellipse cx="64.9" cy="416.0" rx="2.6" ry="1.1" fill="#AFC4BF"/>
<path d="M73.5,430.6 L78.9,427.3 L75.4,424.9 L81.8,425.9 L88.4,424.1 L85.5,427.5 L87.8,431.5 L81.6,429.2Z" fill="#F6F1F1"/><ellipse cx="82.2" cy="427.6" rx="2.6" ry="1.1" fill="#AFC4BF"/>
<path d="M145.9,437.4 L142.3,441.0 L142.6,443.7 L137.4,442.0 L128.5,439.8 L137.9,439.0Z" fill="#F6F1F1"/><ellipse cx="139.1" cy="440.6" rx="2.6" ry="1.1" fill="#AFC4BF"/>
<path d="M114.9,435.1 L113.9,437.4 L121.1,437.1 L113.7,438.7 L111.2,441.4 L109.0,439.3 L103.1,439.6 L107.6,437.6 L102.3,435.1 L109.6,436.4Z" fill="#F6F1F1"/><ellipse cx="110.8" cy="437.9" rx="2.6" ry="1.1" fill="#AFC4BF"/>
<path d="M103.6,409.4 L111.9,407.5 L116.1,403.2 L117.2,407.5 L123.1,409.7 L116.2,409.9 L117.8,411.9 L113.4,410.0Z" fill="#F6F1F1"/><ellipse cx="114.5" cy="408.5" rx="2.6" ry="1.1" fill="#AFC4BF"/>
<path d="M55.1,420.4 L64.1,421.0 L70.3,420.7 L67.3,423.4 L65.6,428.1 L61.8,423.6Z" fill="#F6F1F1"/><ellipse cx="64.4" cy="422.6" rx="2.6" ry="1.1" fill="#AFC4BF"/>
<path d="M140.8,415.1 L135.5,416.0 L138.5,419.0 L132.6,416.3 L126.0,416.2 L130.3,414.1 L133.7,411.2 L135.8,413.6Z" fill="#F6F1F1"/><ellipse cx="133.4" cy="414.7" rx="2.6" ry="1.1" fill="#AFC4BF"/>
<path d="M62.7,437.9 L63.5,435.5 L59.5,433.5 L65.7,433.7 L70.5,432.5 L70.0,434.9 L73.7,437.6 L67.4,436.9Z" fill="#F6F1F1"/><ellipse cx="66.8" cy="435.3" rx="2.6" ry="1.1" fill="#AFC4BF"/>
<path d="M86.3,412.4 L92.5,415.9 L98.6,419.1 L90.9,418.8 L83.6,419.5 L87.6,416.5Z" fill="#F6F1F1"/><ellipse cx="90.6" cy="417.2" rx="2.6" ry="1.1" fill="#AFC4BF"/>
<path d="M161.4,421.5 L157.9,423.5 L160.3,424.4 L155.8,424.5 L148.5,425.9 L151.5,422.9 L148.5,420.7 L154.2,421.3Z" fill="#F6F1F1"/><ellipse cx="154.8" cy="422.9" rx="2.6" ry="1.1" fill="#AFC4BF"/>
<path d="M92.2,417.8 L99.6,420.7 L107.0,420.8 L102.3,423.0 L107.5,426.8 L99.1,424.0 L87.0,424.1 L96.3,421.6Z" fill="#F6F1F1"/><ellipse cx="99.2" cy="422.4" rx="2.6" ry="1.1" fill="#AFC4BF"/>
<path d="M79.1,435.2 L83.8,437.0 L93.6,439.2 L84.9,439.9 L82.7,444.3 L80.5,439.8 L69.9,438.8 L80.5,437.5Z" fill="#F6F1F1"/><ellipse cx="82.9" cy="438.6" rx="2.6" ry="1.1" fill="#AFC4BF"/>
<path d="M119.9,429.3 L121.9,433.0 L125.7,432.1 L122.7,434.5 L122.7,436.9 L118.7,435.7 L113.0,436.2 L116.3,433.8Z" fill="#F6F1F1"/><ellipse cx="119.5" cy="434.1" rx="2.6" ry="1.1" fill="#AFC4BF"/>
<path d="M72.3,417.0 L77.8,413.0 L73.8,408.6 L82.3,412.2 L91.6,413.2 L82.7,415.0Z" fill="#F6F1F1"/><ellipse cx="80.9" cy="413.7" rx="2.6" ry="1.1" fill="#AFC4BF"/>
<path d="M126.2,427.1 L115.9,427.9 L117.2,431.9 L112.2,428.1 L105.5,427.3 L111.1,425.7 L115.4,422.8 L116.5,425.8Z" fill="#F6F1F1"/><ellipse cx="113.7" cy="426.7" rx="2.6" ry="1.1" fill="#AFC4BF"/>
<path d="M103.6,420.9 L103.9,417.1 L94.9,414.3 L105.5,414.9 L104.0,412.1 L108.4,414.9 L118.6,414.4 L109.9,417.1Z" fill="#F6F1F1"/><ellipse cx="106.9" cy="416.4" rx="2.6" ry="1.1" fill="#AFC4BF"/>
<path d="M152.3,443.3 L148.5,440.1 L137.4,440.0 L147.5,437.8 L149.3,434.5 L152.3,437.4 L161.5,435.9 L153.4,439.2Z" fill="#F6F1F1"/><ellipse cx="150.3" cy="438.7" rx="2.6" ry="1.1" fill="#AFC4BF"/>
<path d="M90.5,428.0 L93.7,430.6 L101.4,430.4 L94.7,432.7 L98.6,436.3 L91.4,433.6 L86.9,434.9 L88.5,432.1Z" fill="#F6F1F1"/><ellipse cx="91.8" cy="432.0" rx="2.6" ry="1.1" fill="#AFC4BF"/>
<path d="M32.3,427.2 L35.9,425.3 L35.9,421.6 L40.3,424.6 L45.5,425.7 L41.4,427.1 L42.6,430.4 L37.6,427.6Z" fill="#F6F1F1"/><ellipse cx="38.8" cy="426.0" rx="2.6" ry="1.1" fill="#AFC4BF"/>
<path d="M159.1,426.9 L156.7,429.3 L159.8,431.5 L153.9,430.7 L148.9,432.3 L150.2,429.4 L146.0,427.4 L152.3,427.6Z" fill="#F6F1F1"/><ellipse cx="153.4" cy="429.1" rx="2.6" ry="1.1" fill="#AFC4BF"/>
<path d="M74.9,410.5 L81.4,408.1 L77.6,404.4 L84.8,407.2 L91.2,405.6 L87.6,408.9 L87.0,414.8 L82.6,410.2Z" fill="#F6F1F1"/><ellipse cx="84.3" cy="408.8" rx="2.6" ry="1.1" fill="#AFC4BF"/>
<path d="M49.9,440.8 L57.3,438.6 L55.5,434.0 L61.4,437.9 L68.7,436.4 L63.4,439.7 L66.3,442.1 L60.4,441.1Z" fill="#F6F1F1"/><ellipse cx="60.1" cy="439.4" rx="2.6" ry="1.1" fill="#AFC4BF"/></g>
<path d="M16.4,417.5 A83.3,20.2 0 0 0 183,417.5 L188.9,417.5 L188.9,424 A89.4,30.5 0 0 1 10.1,424 L10.1,417.5 Z" fill="#F3B1BD" opacity="0.8"/>
<path d="M16.4,417.5 A83.3,20.2 0 0 0 30,428" fill="none" stroke="#c9607a" stroke-width="0.6" opacity="0.7"/>
</g>
<path d="M13,424 L13,411 A86.5,28 0 0 1 186,411 L186,424" fill="none" stroke="#c8cacc" stroke-width="0.5"/>
<path d="M10.1,424 L10.1,411 A89.4,30 0 0 1 188.9,411 L188.9,424 A89.4,30.5 0 0 1 10.1,424" fill="none" stroke="#959595" stroke-width="0.8"/>
</g>
<line x1="283.1" y1="365.8" x2="283.1" y2="390.7" stroke="#1F5B8E" stroke-width="1.6"/><path d="M277.2,384.3 L278.1,383.7 L283.1,387.0 L288.1,383.7 L289.0,384.3 L283.1,396.7 Z" fill="#1F5B8E"/>
<line x1="283.1" y1="402.5" x2="283.1" y2="426.7" stroke="#1F5B8E" stroke-width="1.6"/><path d="M277.2,420.3 L278.1,419.7 L283.1,423.0 L288.1,419.7 L289.0,420.3 L283.1,432.7 Z" fill="#1F5B8E"/>
<line x1="283.1" y1="442.3" x2="283.1" y2="466.1" stroke="#1F5B8E" stroke-width="1.6"/><path d="M277.2,459.7 L278.1,459.1 L283.1,462.4 L288.1,459.1 L289.0,459.7 L283.1,472.1 Z" fill="#1F5B8E"/>
<line x1="338.4" y1="365.8" x2="338.4" y2="390.5" stroke="#111" stroke-width="1.6"/><path d="M332.5,384.1 L333.4,383.5 L338.4,386.8 L343.4,383.5 L344.3,384.1 L338.4,396.5 Z" fill="#111"/>
<line x1="338.4" y1="402.5" x2="338.4" y2="426.1" stroke="#111" stroke-width="1.6"/><path d="M332.5,419.7 L333.4,419.1 L338.4,422.4 L343.4,419.1 L344.3,419.7 L338.4,432.1 Z" fill="#111"/>
<line x1="395.2" y1="402.3" x2="395.2" y2="426.1" stroke="#111" stroke-width="1.6"/><path d="M389.3,419.7 L390.2,419.1 L395.2,422.4 L400.2,419.1 L401.1,419.7 L395.2,432.1 Z" fill="#111"/>
<line x1="395.2" y1="442" x2="395.2" y2="467.1" stroke="#111" stroke-width="1.6"/><path d="M389.3,460.7 L390.2,460.1 L395.2,463.4 L400.2,460.1 L401.1,460.7 L395.2,473.1 Z" fill="#111"/>
<line x1="469.7" y1="366" x2="469.7" y2="390.3" stroke="#111" stroke-width="1.6"/><path d="M463.8,383.9 L464.7,383.3 L469.7,386.6 L474.7,383.3 L475.6,383.9 L469.7,396.3 Z" fill="#111"/>
<line x1="469.7" y1="402.3" x2="469.7" y2="426.1" stroke="#111" stroke-width="1.6"/><path d="M463.8,419.7 L464.7,419.1 L469.7,422.4 L474.7,419.1 L475.6,419.7 L469.7,432.1 Z" fill="#111"/>
<line x1="469.7" y1="442" x2="469.7" y2="466.9" stroke="#111" stroke-width="1.6"/><path d="M463.8,460.5 L464.7,459.9 L469.7,463.2 L474.7,459.9 L475.6,460.5 L469.7,472.9 Z" fill="#111"/>
<rect x="392.2" y="381" width="5.8" height="1.7" fill="#7a7a7a"/>
<rect x="335.6" y="457" width="5.8" height="1.7" fill="#7a7a7a"/>
</svg>
</body></html>
